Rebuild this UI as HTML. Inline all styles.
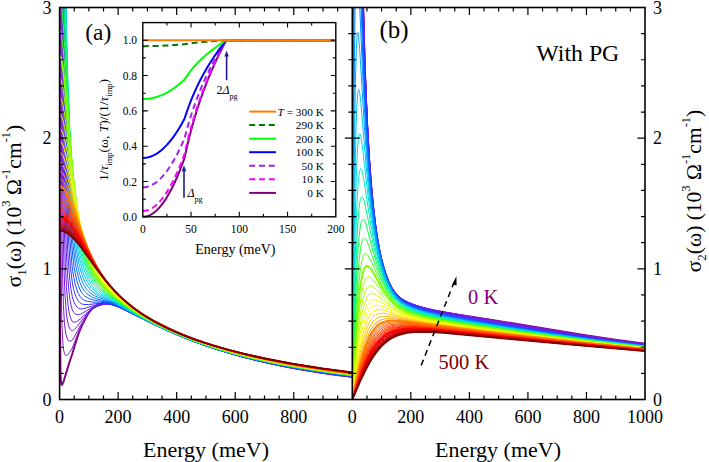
<!DOCTYPE html>
<html><head><meta charset="utf-8"><style>
html,body{margin:0;padding:0;background:#fff;}
svg{display:block;}
text{font-family:"Liberation Serif", serif;fill:#000;}
</style></head><body>
<svg width="709" height="462" viewBox="0 0 709 462">
<rect width="709" height="462" fill="#fff"/>

<defs><clipPath id="ca"><rect x="59.6" y="7.5" width="292.7" height="392.0"/></clipPath><clipPath id="cb"><rect x="352.3" y="7.5" width="292.7" height="392.0"/></clipPath></defs>
<g clip-path="url(#ca)" fill="none" stroke-linejoin="round"><path d="M59.6 -30.0L59.8 -30.0L60.0 322.9L60.5 373.0L60.9 381.8L61.5 384.6L61.9 384.8L62.4 384.3L63.7 381.1L69.0 363.6L72.3 353.8L76.9 338.8L78.9 332.7L82.0 325.4L87.0 315.7L88.9 312.6L91.1 309.9L93.3 307.8L95.5 306.2L98.4 304.6L101.3 303.4L104.2 302.6L107.9 302.2L110.8 302.3L113.7 302.9L117.4 304.0L121.8 305.7L132.8 310.6L167.2 327.6L186.2 336.3L197.9 341.1L209.6 345.6L221.3 349.6L233.0 353.4L246.2 357.2L259.4 360.6L273.3 363.9L287.9 367.0L303.3 369.8L318.6 372.3L334.7 374.7L352.3 376.9" stroke="#800080" stroke-width="1.9"/><path d="M59.6 -30.0L60.3 -30.0L60.8 202.8L61.1 260.9L61.5 303.1L61.9 323.9L62.7 340.7L63.1 346.0L63.7 350.3L64.4 353.4L65.2 354.9L65.7 355.4L66.3 355.5L67.1 355.3L67.8 354.7L69.6 352.5L72.2 348.2L78.2 332.9L80.8 327.0L86.2 317.1L88.4 313.7L90.3 311.2L92.5 309.0L94.7 307.4L96.9 306.0L99.8 304.7L102.0 303.9L105.0 303.2L107.9 303.0L110.1 303.0L113.0 303.5L115.9 304.4L124.7 307.9L133.5 312.0L165.0 327.6L176.7 333.0L187.7 337.8L197.9 341.9L208.9 346.0L219.1 349.5L230.1 353.0L243.3 356.9L257.2 360.5L271.1 363.7L285.7 366.8L301.1 369.6L317.2 372.3L334.0 374.7L352.3 377.0" stroke="#8C14C8" stroke-width="1.0"/><path d="M59.6 -30.0L60.9 -30.0L61.6 188.8L62.1 241.1L62.7 279.3L63.4 304.6L64.4 322.4L65.2 329.4L65.9 334.0L66.8 337.4L67.9 339.9L68.8 340.9L69.8 341.2L71.0 341.0L72.3 340.2L74.7 336.2L80.1 326.0L85.1 317.9L88.6 313.1L91.8 309.7L94.0 308.0L96.2 306.7L99.1 305.3L101.3 304.5L105.7 303.6L108.6 303.5L110.8 303.7L113.7 304.3L116.7 305.2L124.7 308.5L162.8 327.2L174.5 332.6L185.5 337.3L195.7 341.5L206.7 345.6L217.7 349.4L228.6 352.8L241.8 356.6L255.7 360.3L270.3 363.7L285.0 366.7L300.3 369.5L317.2 372.3L334.0 374.7L352.3 377.0" stroke="#8217D4" stroke-width="1.0"/><path d="M59.6 -30.0L61.5 -30.0L62.5 175.3L63.1 226.8L64.0 269.1L65.0 295.0L66.3 312.3L67.2 319.0L68.1 323.5L69.1 327.0L70.4 329.6L71.3 330.5L72.3 331.0L74.4 329.5L76.9 326.7L86.7 314.2L90.3 310.5L93.3 308.3L97.7 306.0L102.0 304.5L106.4 303.8L110.8 304.0L115.9 305.4L124.0 308.7L161.3 327.0L173.0 332.3L184.0 337.1L195.0 341.5L205.9 345.5L216.9 349.3L227.9 352.7L241.8 356.7L255.7 360.3L270.3 363.7L285.0 366.7L300.3 369.5L317.2 372.2L334.0 374.6L352.3 376.9" stroke="#781BDF" stroke-width="1.0"/><path d="M59.6 -30.0L62.1 -30.0L62.8 100.6L63.4 168.0L64.3 226.4L65.3 263.8L66.5 287.6L67.9 304.2L68.8 310.3L69.8 315.3L70.9 318.7L72.2 321.4L73.1 322.0L74.4 322.2L75.7 322.0L77.3 321.2L80.7 318.6L85.5 313.9L88.9 311.1L92.5 308.5L96.2 306.7L100.6 305.2L104.2 304.4L107.9 304.3L111.6 304.7L116.7 306.2L123.3 309.0L159.8 326.8L170.8 331.8L181.8 336.5L192.8 340.9L204.5 345.2L215.5 349.0L227.2 352.6L241.1 356.6L255.0 360.2L269.6 363.5L284.2 366.5L300.3 369.4L316.4 372.0L334.0 374.5L352.3 376.8" stroke="#6E1EEB" stroke-width="1.0"/><path d="M59.6 -30.0L62.7 -30.0L63.4 76.9L64.1 151.7L65.2 212.6L66.3 251.7L67.5 274.7L69.1 293.2L70.1 300.5L71.2 305.7L72.3 309.8L73.6 312.2L74.8 313.5L76.1 314.3L77.5 314.6L79.1 314.5L80.5 314.1L82.3 313.3L86.5 310.6L91.1 308.1L94.0 306.8L97.7 305.5L101.3 304.6L105.0 304.2L108.6 304.3L111.6 304.7L115.9 306.1L122.5 308.8L158.4 326.3L169.4 331.3L180.3 336.1L191.3 340.5L203.0 344.8L214.7 348.8L226.4 352.4L240.3 356.4L254.2 359.9L268.9 363.3L284.2 366.4L300.3 369.3L316.4 371.9L334.0 374.4L352.3 376.7" stroke="#5D25F2" stroke-width="1.0"/><path d="M59.6 -30.0L63.3 -30.0L64.1 79.2L65.0 151.4L66.2 208.6L67.6 248.9L69.1 272.1L70.0 281.4L71.0 289.5L72.2 296.2L72.9 299.0L74.4 303.0L76.0 305.9L77.3 307.3L78.6 308.3L80.1 308.8L81.8 308.9L83.9 308.6L94.7 305.3L100.6 304.1L103.5 303.9L106.4 303.8L109.4 304.2L111.6 304.6L115.9 306.0L121.8 308.5L156.2 325.4L167.2 330.5L178.1 335.3L189.1 339.7L200.8 344.1L212.5 348.1L225.0 352.0L238.9 355.9L253.5 359.7L268.1 363.0L283.5 366.2L299.6 369.1L316.4 371.8L334.0 374.3L352.3 376.5" stroke="#4D2BF8" stroke-width="1.0"/><path d="M59.6 -30.0L63.8 -30.0L64.7 70.9L65.7 144.5L67.1 201.4L67.9 226.0L68.8 244.2L70.4 266.6L72.3 282.7L73.5 288.7L74.8 293.6L76.4 297.8L78.2 300.8L79.5 302.3L80.8 303.4L82.3 304.1L83.9 304.5L88.7 304.5L99.1 303.4L103.5 303.2L108.6 303.7L113.7 305.1L118.1 306.8L123.3 309.2L146.7 320.9L159.1 326.9L170.1 331.9L180.3 336.2L193.5 341.4L207.4 346.4L221.3 350.8L235.2 354.9L248.4 358.3L261.6 361.5L275.5 364.4L289.4 367.1L304.0 369.7L319.4 372.1L335.5 374.3L352.3 376.4" stroke="#3C32FF" stroke-width="1.0"/><path d="M59.6 -30.0L64.3 -30.0L65.3 68.3L66.6 148.0L68.1 200.8L69.0 222.1L70.0 240.7L71.7 262.4L72.6 270.1L73.8 277.5L75.1 283.9L76.6 289.0L78.3 293.5L80.2 296.7L81.8 298.5L83.5 299.8L84.6 300.4L87.8 301.4L92.5 302.1L101.3 302.3L105.7 302.7L109.4 303.4L113.7 304.7L122.5 308.7L144.5 319.8L155.5 325.2L165.7 330.0L175.2 334.1L187.7 339.2L200.1 343.8L213.3 348.3L226.4 352.3L240.3 356.2L254.2 359.7L268.9 363.0L284.2 366.1L300.3 368.9L316.4 371.5L334.0 374.0L352.3 376.3" stroke="#2446FF" stroke-width="1.0"/><path d="M59.6 -30.0L64.6 -30.0L64.7 -27.0L65.9 70.3L67.2 140.4L69.0 197.5L70.0 219.5L71.0 236.2L72.9 257.8L74.1 266.7L75.3 273.5L76.7 280.1L78.3 285.5L80.1 289.8L82.1 293.2L83.3 294.7L84.6 295.9L87.1 297.6L89.6 298.8L91.8 299.6L94.7 300.2L106.4 302.0L110.1 303.0L113.0 304.0L121.1 307.7L152.5 323.8L171.6 332.5L183.3 337.4L195.0 341.9L207.4 346.3L219.9 350.3L234.5 354.5L249.1 358.3L264.5 361.9L280.6 365.2L297.4 368.3L315.0 371.2L333.3 373.8L352.3 376.2" stroke="#0C5AFF" stroke-width="1.0"/><path d="M59.6 -30.0L64.9 -30.0L65.0 -28.1L66.3 67.1L67.8 136.5L68.7 166.0L69.7 192.7L70.9 215.7L72.0 233.1L72.9 243.4L74.1 254.0L75.4 263.3L76.7 270.5L78.2 276.7L79.9 282.4L81.8 286.8L83.9 290.3L86.1 292.8L88.0 294.5L90.3 296.1L92.5 297.3L96.9 298.8L107.2 301.4L113.0 303.5L120.3 306.9L148.9 321.9L158.4 326.5L167.9 330.9L178.9 335.6L190.6 340.2L202.3 344.4L214.0 348.3L228.6 352.8L244.0 356.9L260.1 360.8L276.9 364.4L294.5 367.7L312.8 370.7L331.8 373.4L352.3 376.0" stroke="#0072FF" stroke-width="1.0"/><path d="M59.6 -30.0L65.2 -30.0L66.8 68.9L68.4 135.6L69.4 166.0L70.4 189.9L71.6 211.1L72.8 227.6L73.9 240.2L75.1 250.2L76.4 259.2L78.0 267.7L79.6 274.2L81.6 280.0L83.6 284.5L85.9 288.2L87.7 290.4L89.6 292.4L91.8 294.1L94.7 295.9L98.4 297.4L108.6 301.0L114.5 303.5L143.0 318.8L158.4 326.4L170.8 332.1L183.3 337.3L196.4 342.3L209.6 346.8L225.0 351.6L240.3 355.8L256.4 359.8L274.0 363.6L292.3 367.1L311.3 370.3L331.1 373.2L352.3 375.9" stroke="#008EFF" stroke-width="1.0"/><path d="M59.6 -30.0L65.2 -30.0L67.1 67.8L68.8 132.8L69.8 160.7L71.0 186.0L72.3 208.3L73.6 225.1L75.0 238.2L76.3 248.5L77.7 257.7L79.4 265.6L81.1 272.2L83.2 278.1L85.4 282.7L88.0 286.9L89.6 288.9L91.8 291.2L94.0 292.9L96.9 294.8L99.8 296.3L109.4 300.4L114.5 302.9L138.6 316.2L152.5 323.4L165.7 329.7L178.9 335.4L192.8 340.8L206.7 345.7L222.0 350.6L238.1 355.1L255.0 359.3L272.5 363.2L290.8 366.7L310.6 370.1L331.1 373.1L352.3 375.8" stroke="#00AAFF" stroke-width="1.0"/><path d="M59.6 -30.0L65.2 -30.0L67.2 65.5L69.3 132.9L70.4 161.3L71.6 184.1L72.9 204.7L74.4 222.2L75.7 234.6L77.2 245.7L78.8 255.3L80.5 263.5L82.3 269.9L84.3 275.7L87.0 281.2L89.6 285.4L91.8 288.2L94.0 290.3L96.2 292.1L99.1 294.1L114.5 302.2L135.0 313.9L147.4 320.7L160.6 327.2L174.5 333.4L188.4 339.1L203.0 344.4L219.1 349.6L235.2 354.2L252.1 358.5L270.3 362.6L289.4 366.3L309.1 369.7L330.3 372.8L352.3 375.6" stroke="#00C4F1" stroke-width="1.0"/><path d="M59.6 -30.0L64.9 -30.0L67.2 63.0L69.4 128.2L70.7 157.7L72.0 181.5L73.4 200.7L75.0 219.0L76.4 232.1L77.9 242.7L79.5 252.1L81.4 260.9L83.5 268.2L85.7 274.1L88.3 279.6L91.1 284.1L93.3 286.9L95.5 289.2L98.4 291.7L101.3 293.7L131.3 311.5L143.0 318.1L156.9 325.3L170.8 331.7L185.5 337.8L200.8 343.5L216.9 348.8L233.0 353.5L250.6 358.0L268.9 362.2L287.9 365.9L308.4 369.4L329.6 372.6L352.3 375.5" stroke="#00DEE3" stroke-width="1.0"/><path d="M59.6 -30.0L64.3 -30.0L67.4 69.9L69.7 130.0L71.0 156.4L72.5 180.7L73.9 200.0L75.4 215.6L76.9 228.3L78.5 239.7L80.2 249.6L82.3 258.8L84.3 266.0L86.8 272.6L89.6 278.5L92.5 283.1L94.7 285.9L97.7 289.0L100.6 291.5L103.5 293.6L126.2 308.0L140.8 316.6L154.7 324.0L168.6 330.6L183.3 336.8L198.6 342.6L214.7 348.0L231.6 353.0L249.1 357.5L267.4 361.7L287.2 365.6L307.7 369.2L329.6 372.5L352.3 375.4" stroke="#00EFC0" stroke-width="1.0"/><path d="M59.6 -30.0L63.4 -30.0L67.4 75.4L69.8 130.8L71.3 157.1L72.8 179.2L74.2 197.2L75.8 213.4L77.5 226.6L79.2 238.3L81.1 248.6L83.2 257.3L85.5 265.1L88.1 271.9L91.1 277.9L94.0 282.5L96.2 285.2L99.1 288.4L102.0 291.0L105.7 293.8L123.3 305.6L138.6 315.1L152.5 322.6L166.4 329.4L181.1 335.7L197.2 341.9L213.3 347.4L230.1 352.4L247.7 357.0L266.7 361.4L286.4 365.4L306.9 368.9L328.9 372.2L352.3 375.2" stroke="#00F788" stroke-width="1.0"/><path d="M59.6 -30.0L61.4 -30.0L62.2 -19.4L63.7 6.0L67.9 95.5L70.3 138.7L73.1 179.1L74.5 195.7L76.0 209.7L77.7 223.6L79.5 235.1L81.6 245.9L83.7 255.2L86.2 263.4L88.9 270.3L91.8 276.3L95.5 282.0L98.4 285.7L101.3 288.7L104.2 291.3L108.6 294.8L115.9 300.1L124.0 305.6L138.6 314.7L151.8 322.0L165.7 328.9L180.3 335.3L196.4 341.5L212.5 347.0L229.4 352.1L246.9 356.7L266.0 361.1L285.7 365.1L306.9 368.8L328.9 372.1L352.3 375.1" stroke="#00FF50" stroke-width="1.0"/><path d="M59.6 -2.3L59.9 -2.1L60.3 -1.1L61.1 2.5L61.8 8.3L62.7 17.8L64.3 40.7L68.8 117.7L71.3 154.8L74.1 188.1L75.6 202.1L77.2 215.3L79.1 228.3L81.0 239.0L83.2 249.0L85.4 257.1L88.1 265.3L91.1 272.1L94.0 277.5L97.7 282.8L100.6 286.3L103.5 289.2L107.2 292.5L112.3 296.6L125.5 306.0L132.0 310.4L139.4 314.9L152.5 322.2L166.4 329.1L181.1 335.4L196.4 341.4L212.5 346.9L229.4 351.9L246.9 356.6L266.0 361.0L285.7 364.9L306.9 368.6L328.9 371.9L352.3 375.0" stroke="#2BFF35" stroke-width="1.0"/><path d="M59.6 29.2L60.0 29.5L60.5 30.5L61.4 34.3L62.2 40.4L63.1 48.4L65.2 73.0L70.1 141.7L72.5 169.9L75.6 199.7L78.8 223.1L80.8 234.8L82.9 244.4L84.9 252.3L87.7 261.1L90.3 267.8L93.3 273.9L96.9 279.9L100.6 284.6L103.5 287.8L107.2 291.3L111.6 295.1L116.7 299.2L129.1 308.0L141.6 315.8L154.0 322.7L167.9 329.6L182.5 335.9L197.9 341.8L214.0 347.2L230.8 352.2L248.4 356.8L266.7 361.0L286.4 364.9L306.9 368.5L328.9 371.8L352.3 374.8" stroke="#55FF1B" stroke-width="1.0"/><path d="M59.6 55.7L60.0 55.9L60.5 56.5L61.5 59.9L62.5 65.6L63.6 73.4L65.5 91.9L70.6 150.3L73.5 180.3L76.9 207.7L78.6 219.3L80.5 230.2L82.6 240.0L84.8 248.8L87.4 257.5L90.3 265.3L93.3 271.7L96.2 276.9L99.8 282.2L103.5 286.6L107.2 290.3L110.8 293.7L120.3 301.4L131.3 309.2L143.8 316.9L156.2 323.8L170.1 330.5L184.0 336.4L199.4 342.2L215.5 347.5L232.3 352.5L249.9 357.0L268.1 361.2L287.2 365.0L307.7 368.5L329.6 371.8L352.3 374.7" stroke="#80FF00" stroke-width="1.9"/><path d="M59.6 78.2L60.2 78.5L60.6 79.1L61.6 82.0L62.7 86.7L63.8 93.9L66.0 111.7L71.6 164.7L74.7 190.9L78.3 216.0L80.2 226.6L82.3 236.4L84.5 245.3L87.0 253.7L89.6 261.2L92.5 268.1L95.5 273.8L99.1 279.6L102.8 284.4L107.2 289.2L110.8 292.8L115.2 296.7L124.7 304.2L135.7 311.7L147.4 318.8L159.8 325.4L173.0 331.6L186.9 337.4L201.6 342.8L216.9 347.9L233.8 352.7L250.6 357.1L268.9 361.2L287.9 364.9L308.4 368.5L329.6 371.6L352.3 374.6" stroke="#99FF00" stroke-width="1.0"/><path d="M59.6 97.5L60.2 97.8L60.6 98.3L61.8 100.9L63.0 105.4L64.1 111.6L66.5 127.4L72.8 178.0L76.0 200.9L77.9 212.6L79.9 223.7L82.0 233.4L84.2 242.3L86.8 251.3L89.6 259.2L92.5 266.2L95.5 272.0L99.1 278.1L102.8 283.1L107.2 288.2L111.6 292.6L119.6 299.7L129.1 306.9L139.4 313.7L151.1 320.6L162.8 326.7L175.9 332.7L189.9 338.4L204.5 343.7L219.9 348.6L236.0 353.2L252.8 357.4L271.1 361.5L290.1 365.2L309.9 368.6L330.3 371.6L352.3 374.5" stroke="#B3FF00" stroke-width="1.0"/><path d="M59.6 114.2L60.2 114.4L60.8 115.0L61.9 117.3L63.3 121.6L64.6 127.5L67.1 142.0L73.6 187.1L77.3 209.4L79.5 220.8L81.7 230.9L83.9 239.7L86.2 247.7L88.9 255.5L91.8 262.9L94.7 269.1L98.4 275.5L102.0 280.9L106.4 286.4L111.6 291.8L116.7 296.6L125.5 303.8L135.0 310.6L145.2 317.0L156.2 323.2L167.9 329.0L181.1 334.8L194.2 339.9L208.9 345.0L223.5 349.6L239.6 354.0L255.7 358.0L273.3 361.8L291.6 365.3L310.6 368.6L331.1 371.6L352.3 374.3" stroke="#CCFF00" stroke-width="1.0"/><path d="M59.6 128.8L60.2 128.9L60.8 129.4L62.1 131.5L63.4 135.2L64.9 140.7L67.5 153.7L74.7 195.9L78.8 217.3L81.1 227.8L83.5 237.0L85.8 245.0L88.4 252.9L91.8 261.4L94.7 267.7L97.7 273.0L101.3 278.8L105.7 284.6L110.1 289.6L115.2 294.7L121.1 299.9L129.1 306.2L138.6 312.7L148.9 319.0L159.8 324.9L171.6 330.5L184.0 335.8L197.2 340.9L211.8 345.9L226.4 350.3L241.8 354.5L257.9 358.4L275.5 362.1L293.0 365.5L312.1 368.7L331.8 371.6L352.3 374.2" stroke="#E6FF00" stroke-width="1.0"/><path d="M59.6 141.5L60.2 141.6L60.9 142.1L62.4 144.3L63.8 147.9L65.3 152.8L68.2 165.4L75.7 203.5L80.1 223.4L82.4 232.6L84.9 241.3L87.6 249.3L90.3 256.7L93.3 263.4L96.9 270.6L100.6 276.6L104.2 281.8L108.6 287.2L113.7 292.6L119.6 298.1L125.5 303.0L133.5 309.0L143.0 315.3L153.3 321.2L164.2 326.9L175.9 332.3L187.7 337.2L200.8 342.1L214.7 346.7L229.4 351.0L244.0 354.9L260.1 358.7L276.9 362.3L294.5 365.6L312.8 368.6L331.8 371.4L352.3 374.1" stroke="#FFFF00" stroke-width="1.0"/><path d="M59.6 152.7L60.3 152.8L61.1 153.3L62.5 155.2L64.1 158.7L65.7 163.4L68.8 175.0L76.9 210.8L81.6 229.4L84.2 238.4L86.8 246.4L89.6 253.9L92.5 260.8L95.5 266.8L99.1 273.3L102.8 278.9L107.2 284.7L112.3 290.5L117.4 295.6L123.3 300.8L129.8 306.1L138.6 312.2L148.1 318.2L158.4 323.8L168.6 328.9L180.3 334.1L192.0 338.7L205.2 343.5L218.4 347.7L233.0 351.9L247.7 355.7L263.0 359.3L279.1 362.6L296.0 365.7L314.2 368.8L332.5 371.4L352.3 374.0" stroke="#FFE600" stroke-width="1.0"/><path d="M59.6 162.6L60.3 162.7L61.2 163.2L62.8 165.1L64.6 168.5L66.3 173.1L69.6 183.9L78.0 217.2L83.0 234.6L85.8 243.0L88.7 251.0L91.8 258.3L94.7 264.5L98.4 271.2L102.0 277.0L106.4 283.1L110.8 288.3L115.9 293.7L121.1 298.5L126.9 303.5L133.5 308.5L142.3 314.4L151.1 319.7L161.3 325.2L171.6 330.1L183.3 335.2L195.0 339.7L207.4 344.1L220.6 348.2L234.5 352.2L249.1 355.9L264.5 359.5L280.6 362.8L297.4 365.9L315.0 368.7L333.3 371.4L352.3 373.9" stroke="#FFCC00" stroke-width="1.0"/><path d="M59.6 171.4L60.5 171.5L61.4 172.0L63.1 173.9L64.9 176.9L66.8 181.3L70.3 191.7L79.4 223.2L84.5 239.2L87.4 247.2L90.3 254.4L93.3 260.8L96.9 267.9L100.6 274.0L105.0 280.5L109.4 286.0L113.7 291.0L118.9 296.1L124.7 301.4L130.6 306.1L137.2 310.8L145.9 316.5L154.7 321.6L165.0 326.9L175.2 331.7L186.2 336.3L197.9 340.7L210.3 344.9L223.5 349.0L237.4 352.9L251.3 356.4L266.7 359.8L282.1 362.9L298.2 365.9L315.7 368.7L333.3 371.3L352.3 373.7" stroke="#FFB300" stroke-width="1.0"/><path d="M59.6 179.2L60.5 179.3L61.4 179.7L63.3 181.5L65.3 184.7L67.4 188.9L71.0 198.7L80.7 228.6L86.1 243.7L89.6 252.3L92.5 258.7L95.5 264.5L99.1 271.0L102.8 276.7L107.2 282.8L111.6 288.1L116.7 293.6L121.8 298.5L127.7 303.5L133.5 308.0L140.1 312.6L148.9 318.1L157.7 323.1L167.2 327.9L177.4 332.5L188.4 337.0L200.1 341.4L212.5 345.6L225.7 349.5L239.6 353.3L253.5 356.8L268.1 360.0L283.5 363.1L299.6 366.0L316.4 368.7L334.0 371.3L352.3 373.6" stroke="#FF9900" stroke-width="1.0"/><path d="M59.6 186.2L60.5 186.4L61.5 186.8L63.6 188.5L65.7 191.5L67.9 195.7L71.9 205.2L82.1 233.7L87.8 248.1L91.1 255.3L94.7 262.7L97.7 268.0L101.3 274.0L105.7 280.3L110.1 285.9L114.5 290.9L119.6 296.1L124.7 300.8L130.6 305.6L137.2 310.5L143.8 314.9L152.5 320.1L161.3 324.9L170.8 329.5L181.1 334.0L192.0 338.4L203.8 342.6L216.2 346.6L228.6 350.3L241.8 353.8L255.7 357.2L270.3 360.4L285.0 363.3L301.1 366.2L317.2 368.7L334.0 371.2L352.3 373.5" stroke="#FF8000" stroke-width="1.9"/><path d="M59.6 190.6L60.6 190.7L61.6 191.1L63.7 192.7L65.9 195.6L68.2 199.7L72.3 208.9L83.0 236.9L88.9 250.8L91.8 257.0L95.5 264.1L99.1 270.4L102.8 276.1L107.2 282.2L111.6 287.6L115.9 292.4L121.1 297.5L126.2 302.0L132.0 306.7L138.6 311.5L145.2 315.8L154.0 321.0L162.8 325.6L172.3 330.2L182.5 334.6L193.5 338.9L204.5 342.8L216.9 346.8L229.4 350.4L242.5 353.9L256.4 357.3L271.1 360.5L285.7 363.3L301.8 366.2L317.9 368.8L334.7 371.2L352.3 373.4" stroke="#FF7300" stroke-width="1.0"/><path d="M59.6 194.5L60.6 194.7L61.8 195.1L64.0 196.8L66.2 199.5L68.7 203.7L72.9 212.8L83.7 239.5L89.6 252.7L93.3 260.1L96.9 266.7L100.6 272.7L104.2 278.2L108.6 284.0L113.0 289.2L117.4 293.9L122.5 298.8L127.7 303.2L133.5 307.8L140.1 312.5L146.7 316.7L154.7 321.4L163.5 326.0L173.0 330.5L183.3 334.9L194.2 339.1L205.2 343.0L217.7 347.0L230.1 350.6L243.3 354.0L257.2 357.4L271.8 360.5L286.4 363.4L301.8 366.1L317.9 368.7L334.7 371.1L352.3 373.4" stroke="#FF6600" stroke-width="1.0"/><path d="M59.6 198.2L60.6 198.3L61.8 198.7L64.1 200.4L66.5 203.2L69.0 207.1L73.4 216.0L84.8 242.6L91.1 256.0L94.7 263.0L98.4 269.3L102.0 275.0L105.7 280.1L110.1 285.7L114.5 290.7L119.6 296.0L124.7 300.7L129.8 305.0L135.7 309.4L142.3 313.9L148.9 318.0L156.9 322.6L165.7 327.1L175.2 331.5L185.5 335.8L196.4 339.9L207.4 343.7L219.9 347.6L232.3 351.1L245.5 354.5L258.6 357.6L272.5 360.6L287.2 363.4L302.5 366.1L318.6 368.7L352.3 373.3" stroke="#FF5A00" stroke-width="1.0"/><path d="M59.6 201.6L60.8 201.7L61.9 202.1L64.3 203.8L66.8 206.6L69.4 210.6L74.1 219.6L85.5 244.9L91.8 257.7L95.5 264.4L99.1 270.5L102.8 276.0L107.2 282.0L111.6 287.4L115.9 292.3L121.1 297.4L126.2 302.0L132.0 306.7L137.9 311.0L143.8 314.9L150.3 318.9L158.4 323.4L167.2 327.8L176.7 332.1L186.9 336.3L197.9 340.4L208.9 344.2L220.6 347.8L233.0 351.3L246.2 354.7L259.4 357.7L273.3 360.7L287.9 363.5L303.3 366.2L318.6 368.6L352.3 373.2" stroke="#FF4D00" stroke-width="1.0"/><path d="M59.6 204.7L60.8 204.8L61.9 205.2L64.4 206.8L66.9 209.5L69.7 213.5L74.4 222.1L86.7 248.0L93.3 260.7L96.9 267.1L100.6 272.8L104.2 278.1L108.6 283.9L113.0 289.1L117.4 293.8L122.5 298.7L127.7 303.2L133.5 307.8L139.4 312.0L145.2 315.8L151.8 319.8L159.8 324.2L168.6 328.5L178.1 332.8L188.4 336.9L198.6 340.7L209.6 344.4L221.3 348.0L233.8 351.4L246.9 354.8L260.1 357.8L274.0 360.8L288.6 363.6L304.0 366.2L319.4 368.7L352.3 373.1" stroke="#FF4000" stroke-width="1.0"/><path d="M59.6 207.6L60.8 207.7L62.1 208.1L64.7 209.8L67.4 212.5L70.1 216.4L75.1 225.1L87.4 250.0L94.0 262.2L97.7 268.3L102.0 275.0L105.7 280.1L110.1 285.7L114.5 290.7L118.9 295.2L124.0 300.0L129.1 304.4L135.0 308.9L140.8 313.0L146.7 316.8L153.3 320.7L161.3 325.0L170.1 329.2L179.6 333.4L189.9 337.5L200.1 341.2L211.1 344.8L222.8 348.4L235.2 351.8L248.4 355.1L261.6 358.1L275.5 361.0L289.4 363.6L319.4 368.6L352.3 373.0" stroke="#FF3300" stroke-width="1.0"/><path d="M59.6 210.3L60.9 210.4L62.2 210.8L64.9 212.4L67.6 215.2L70.6 219.1L75.7 227.8L88.1 251.9L94.7 263.7L98.4 269.6L102.8 276.2L106.4 281.1L110.8 286.5L115.2 291.5L119.6 295.9L124.7 300.7L129.8 305.0L135.7 309.5L141.6 313.5L147.4 317.3L154.0 321.1L162.0 325.4L170.8 329.6L180.3 333.7L189.9 337.5L200.1 341.2L211.1 344.8L222.8 348.3L235.2 351.8L248.4 355.0L261.6 358.1L275.5 360.9L289.4 363.6L319.4 368.5L352.3 373.0" stroke="#FF2600" stroke-width="1.0"/><path d="M59.6 212.7L60.9 212.9L62.2 213.2L65.0 214.9L67.8 217.5L70.9 221.4L76.1 230.0L88.9 253.8L96.2 266.3L99.8 272.0L104.2 278.3L107.9 283.0L112.3 288.2L116.7 293.0L121.1 297.4L126.2 302.0L131.3 306.2L137.2 310.5L143.0 314.5L148.9 318.2L155.5 321.9L163.5 326.1L172.3 330.3L181.8 334.3L191.3 338.0L201.6 341.7L212.5 345.3L224.2 348.7L236.7 352.1L249.1 355.2L262.3 358.2L276.2 361.0L290.1 363.7L320.1 368.6L352.3 372.9" stroke="#FF1A00" stroke-width="1.0"/><path d="M59.6 215.0L60.9 215.1L62.4 215.5L65.2 217.1L68.1 219.8L71.2 223.6L73.6 227.3L76.6 232.1L89.6 255.5L96.9 267.7L100.6 273.2L105.0 279.3L109.4 284.8L113.7 289.9L118.1 294.5L122.5 298.7L127.7 303.2L132.8 307.3L138.6 311.6L144.5 315.5L150.3 319.1L156.9 322.7L165.0 326.9L173.8 330.9L183.3 334.9L192.8 338.6L203.0 342.2L214.0 345.7L225.7 349.1L237.4 352.3L249.9 355.3L263.0 358.3L276.9 361.1L290.8 363.7L320.1 368.5L352.3 372.8" stroke="#FF0D00" stroke-width="1.0"/><path d="M59.6 217.1L60.9 217.2L62.4 217.6L65.3 219.2L68.4 222.0L71.6 225.8L74.2 229.6L77.2 234.3L90.3 257.2L97.7 269.0L101.3 274.4L105.7 280.3L110.1 285.8L114.5 290.7L118.9 295.2L124.0 300.1L129.1 304.4L134.2 308.4L139.4 312.1L145.2 316.0L151.1 319.5L157.7 323.2L165.7 327.2L174.5 331.3L184.0 335.2L193.5 338.9L203.8 342.4L214.7 345.9L226.4 349.3L238.1 352.4L250.6 355.5L263.8 358.4L290.8 363.7L320.1 368.4L352.3 372.8" stroke="#FF0000" stroke-width="1.9"/><path d="M59.6 219.1L61.1 219.2L62.5 219.6L65.5 221.1L68.5 223.8L71.9 227.7L74.5 231.4L77.6 236.1L91.1 258.8L98.4 270.3L102.0 275.5L106.4 281.3L110.8 286.6L115.2 291.5L119.6 296.0L124.7 300.7L129.8 305.1L135.0 309.0L140.1 312.6L145.9 316.5L151.8 320.0L158.4 323.6L166.4 327.6L175.2 331.6L184.7 335.5L194.2 339.1L204.5 342.7L215.5 346.1L227.2 349.5L238.9 352.6L251.3 355.6L264.5 358.5L291.6 363.8L320.8 368.5L352.3 372.7" stroke="#F20000" stroke-width="1.0"/><path d="M59.6 220.8L61.1 221.0L62.5 221.3L65.6 222.9L68.8 225.6L72.2 229.5L75.0 233.2L78.0 237.8L92.5 261.5L99.8 272.5L103.5 277.6L107.9 283.2L112.3 288.3L116.7 293.1L121.1 297.4L126.2 302.0L131.3 306.2L136.4 310.1L141.6 313.6L147.4 317.4L153.3 320.8L159.8 324.4L167.9 328.3L176.7 332.3L186.2 336.1L195.7 339.7L205.9 343.1L216.9 346.6L227.9 349.7L239.6 352.8L264.5 358.5L291.6 363.7L320.8 368.5L352.3 372.7" stroke="#E60000" stroke-width="1.0"/><path d="M59.6 222.5L61.1 222.6L62.7 223.0L64.3 223.7L65.9 224.7L69.1 227.3L72.6 231.3L78.5 239.4L92.5 261.8L100.6 273.7L108.6 284.1L113.0 289.2L117.4 293.8L121.8 298.1L126.9 302.7L132.0 306.8L137.2 310.6L142.3 314.2L148.1 317.9L154.0 321.3L160.6 324.8L168.6 328.7L177.4 332.6L186.9 336.4L196.4 339.9L206.7 343.4L217.7 346.8L228.6 349.9L240.3 352.9L265.2 358.6L292.3 363.8L321.6 368.5L352.3 372.6" stroke="#D90000" stroke-width="1.0"/><path d="M59.6 224.0L61.2 224.1L62.8 224.6L66.0 226.2L69.4 228.9L72.9 232.7L75.7 236.3L78.9 240.9L93.3 263.2L101.3 274.8L109.4 285.0L113.7 290.0L118.1 294.6L122.5 298.8L127.7 303.3L132.8 307.4L137.9 311.2L143.0 314.7L148.9 318.3L154.7 321.7L161.3 325.2L169.4 329.1L178.1 332.9L186.9 336.5L196.4 340.0L206.7 343.4L217.7 346.8L228.6 349.9L240.3 352.9L265.2 358.6L292.3 363.8L321.6 368.5L352.3 372.6" stroke="#CC0000" stroke-width="1.0"/><path d="M59.6 225.4L61.2 225.5L62.8 225.9L66.0 227.5L69.4 230.1L73.1 234.0L76.0 237.6L79.4 242.3L94.0 264.5L102.0 275.9L106.4 281.5L110.8 286.8L115.2 291.6L119.6 296.0L128.4 303.9L133.5 308.0L138.6 311.7L143.8 315.2L149.6 318.8L155.5 322.1L162.0 325.6L170.1 329.4L178.9 333.3L187.7 336.8L197.2 340.2L207.4 343.6L218.4 347.0L229.4 350.1L241.1 353.1L266.0 358.7L293.0 363.9L321.6 368.4L352.3 372.5" stroke="#C00000" stroke-width="1.0"/><path d="M59.6 226.7L61.2 226.8L62.8 227.2L66.2 228.8L69.7 231.5L73.4 235.3L76.4 239.0L79.8 243.6L94.7 265.8L102.8 277.0L107.2 282.5L111.6 287.6L115.9 292.4L120.3 296.7L129.1 304.5L134.2 308.5L139.4 312.2L144.5 315.6L150.3 319.2L156.2 322.5L162.8 326.0L170.8 329.8L179.6 333.6L188.4 337.1L197.9 340.5L208.1 343.9L219.1 347.2L230.1 350.3L241.8 353.3L266.7 358.9L293.0 363.9L321.6 368.4L352.3 372.5" stroke="#B30000" stroke-width="1.0"/><path d="M59.6 227.8L61.2 227.9L63.0 228.4L66.3 229.9L69.8 232.6L73.6 236.4L76.7 240.2L80.1 244.7L95.5 267.1L103.5 278.0L107.9 283.4L112.3 288.4L116.7 293.1L121.1 297.4L125.5 301.4L130.6 305.7L140.1 312.8L151.1 319.7L163.5 326.4L171.6 330.2L180.3 333.9L189.1 337.4L198.6 340.8L208.9 344.1L219.1 347.2L230.1 350.3L241.8 353.3L266.7 358.8L293.0 363.8L321.6 368.4L352.3 372.5" stroke="#A60000" stroke-width="1.0"/><path d="M59.6 228.9L61.2 229.0L63.0 229.4L66.5 231.0L70.1 233.7L73.9 237.5L77.2 241.4L80.7 246.0L95.5 267.2L103.5 278.0L107.9 283.4L112.3 288.4L116.7 293.1L121.8 298.1L126.2 302.1L131.3 306.3L136.4 310.2L141.6 313.8L152.5 320.5L164.2 326.7L172.3 330.5L181.1 334.2L189.9 337.7L199.4 341.0L209.6 344.4L219.9 347.4L230.8 350.5L242.5 353.4L267.4 359.0L293.8 364.0L322.3 368.5L352.3 372.5" stroke="#990000" stroke-width="1.0"/><path d="M59.6 229.8L61.4 230.0L63.1 230.4L66.6 232.0L70.3 234.7L74.2 238.6L77.5 242.3L81.0 246.9L96.2 268.4L104.2 279.0L113.0 289.3L117.4 293.8L122.5 298.8L126.9 302.7L132.0 306.9L137.2 310.7L142.3 314.3L153.3 321.0L165.0 327.1L173.0 330.9L181.1 334.3L189.9 337.7L199.4 341.1L209.6 344.4L219.9 347.5L230.8 350.5L242.5 353.4L267.4 359.0L293.8 363.9L322.3 368.5L352.3 372.4" stroke="#8D0000" stroke-width="1.0"/><path d="M59.6 230.7L61.4 230.8L63.1 231.2L66.6 232.8L70.4 235.5L74.4 239.3L77.6 243.0L81.3 247.7L96.9 269.5L105.0 279.9L113.7 290.0L118.1 294.6L123.3 299.4L127.7 303.3L132.8 307.4L137.9 311.2L143.0 314.7L154.0 321.4L165.7 327.5L173.8 331.2L181.8 334.6L190.6 338.0L200.1 341.3L210.3 344.6L220.6 347.7L231.6 350.7L243.3 353.6L267.4 359.0L293.8 363.9L322.3 368.4L352.3 372.4" stroke="#800000" stroke-width="1.9"/></g>
<g clip-path="url(#cb)" fill="none" stroke-linejoin="round"><path d="M352.3 399.5L352.3 -30.0L362.3 -30.0L364.7 64.1L366.1 101.3L367.5 134.7L369.1 164.0L370.9 189.1L372.9 212.0L375.1 231.2L376.9 243.8L378.5 253.5L380.3 262.1L382.3 270.1L384.5 276.9L387.4 284.2L390.4 289.9L391.8 292.3L394.0 295.3L396.2 297.8L399.1 300.4L401.3 301.9L404.3 303.4L408.6 305.1L413.8 306.8L419.6 308.3L426.2 309.7L439.4 312.0L490.6 319.7L582.1 334.7L613.5 339.4L645.0 343.6" stroke="#800080" stroke-width="1.9"/><path d="M352.3 399.5L352.3 -30.0L362.4 -30.0L365.0 65.1L366.3 100.8L367.8 133.0L369.4 161.4L371.3 188.0L373.4 210.3L375.6 229.3L377.3 241.7L379.1 251.9L381.0 260.9L383.0 268.7L385.2 275.4L388.2 282.7L391.1 288.4L394.0 292.8L396.2 295.4L399.1 298.1L402.1 300.2L405.7 302.0L410.8 304.1L416.7 306.0L423.3 307.8L431.3 309.6L448.2 312.6L566.7 332.5L606.2 338.6L645.0 343.8" stroke="#8C14C8" stroke-width="1.0"/><path d="M352.3 399.5L352.3 -30.0L362.4 -30.0L365.2 67.8L366.5 102.1L368.0 133.2L369.6 160.8L371.5 186.8L373.5 209.0L375.9 228.9L377.6 241.1L379.5 251.7L381.6 261.1L383.8 269.2L386.0 275.8L388.9 282.8L391.8 288.4L394.7 292.7L397.7 295.9L400.6 298.4L403.5 300.2L407.9 302.3L413.8 304.6L419.6 306.4L426.9 308.3L435.7 310.3L462.1 315.1L529.4 326.7L560.8 331.9L603.3 338.4L645.0 344.1" stroke="#8217D4" stroke-width="1.0"/><path d="M352.3 399.5L352.3 -30.0L362.4 -30.0L363.6 17.2L364.9 60.5L366.2 95.8L367.7 127.4L369.4 157.9L371.3 184.0L373.4 206.4L375.7 226.6L377.5 238.9L379.4 249.7L381.4 259.3L383.8 268.2L386.0 275.0L388.9 282.2L391.8 287.9L394.7 292.3L397.7 295.6L400.6 298.1L404.3 300.4L408.6 302.5L414.5 304.8L421.1 306.9L428.4 308.8L437.9 311.0L452.5 313.8L475.2 317.8L524.3 326.3L556.5 331.6L601.1 338.4L645.0 344.3" stroke="#781BDF" stroke-width="1.0"/><path d="M352.3 399.5L352.3 -30.0L362.3 -30.0L362.4 -28.4L363.6 18.3L365.0 65.1L366.3 99.0L367.8 129.4L369.6 158.9L371.5 184.4L373.5 206.3L375.9 226.2L377.6 238.3L379.5 249.0L381.6 258.6L383.8 267.0L386.0 274.0L388.9 281.4L391.8 287.2L393.3 289.6L395.5 292.7L398.4 295.9L402.1 298.9L405.7 301.0L410.8 303.4L416.7 305.6L423.3 307.7L431.3 309.8L440.8 311.9L456.9 315.0L483.3 319.7L522.1 326.4L553.5 331.5L599.6 338.5L645.0 344.5" stroke="#6E1EEB" stroke-width="1.0"/><path d="M352.3 399.5L352.4 -30.0L362.1 -30.0L364.9 65.1L366.2 98.8L367.7 129.0L369.4 158.2L371.3 183.5L373.4 205.4L375.7 225.3L377.5 237.4L379.4 248.1L381.4 257.8L383.8 266.9L386.0 273.9L388.9 281.4L391.8 287.3L393.3 289.7L395.5 292.8L398.4 296.1L402.1 299.1L405.7 301.3L410.8 303.7L416.7 306.0L424.0 308.3L432.1 310.4L442.3 312.7L459.1 315.9L484.0 320.4L519.9 326.5L551.3 331.6L598.9 338.7L645.0 344.8" stroke="#5D25F2" stroke-width="1.0"/><path d="M352.3 399.5L352.5 -30.0L362.0 -30.0L364.4 57.9L365.8 92.7L367.4 126.7L369.1 156.1L371.0 181.6L373.2 205.0L375.6 224.8L377.5 237.8L379.4 248.4L381.4 258.0L383.8 267.0L386.0 274.0L388.9 281.6L391.8 287.5L393.3 289.9L395.5 293.1L398.4 296.4L402.1 299.4L406.4 302.1L411.6 304.4L417.4 306.7L424.7 309.0L432.8 311.1L443.0 313.3L459.9 316.6L484.0 320.9L518.4 326.7L549.9 331.8L598.2 338.9L645.0 345.0" stroke="#4D2BF8" stroke-width="1.0"/><path d="M352.3 399.5L352.7 -30.0L361.7 -30.0L364.2 56.6L365.6 94.8L367.1 125.3L368.8 154.8L370.7 180.3L372.9 203.8L375.3 223.6L377.2 236.7L379.1 247.4L381.3 257.8L383.8 267.4L386.0 274.3L388.9 281.9L391.8 287.8L395.5 293.4L398.4 296.7L402.1 299.8L406.4 302.5L411.6 304.9L418.2 307.4L425.5 309.7L433.5 311.8L443.8 314.0L460.6 317.3L484.7 321.5L517.7 327.0L548.4 331.9L597.4 339.1L645.0 345.2" stroke="#3C32FF" stroke-width="1.0"/><path d="M352.3 399.5L353.0 -30.0L361.2 -30.0L363.9 57.6L365.3 95.0L366.8 125.2L368.5 154.4L370.4 179.7L372.5 201.7L374.8 221.8L376.9 236.0L378.8 246.8L381.1 257.8L383.8 267.9L386.0 274.8L388.9 282.3L391.8 288.2L395.5 293.8L398.4 297.1L402.1 300.3L406.4 303.0L411.6 305.4L418.2 307.9L425.5 310.2L434.3 312.4L444.5 314.7L461.3 317.9L484.7 322.0L546.9 332.1L596.7 339.3L645.0 345.4" stroke="#2446FF" stroke-width="1.0"/><path d="M352.3 399.5L353.5 -30.0L360.6 -30.0L360.8 -29.5L363.3 53.7L364.7 90.6L366.3 124.0L368.1 153.0L370.0 178.3L372.1 200.3L374.4 220.4L376.3 233.8L378.2 245.0L380.5 256.2L383.0 266.1L386.0 275.4L388.9 282.8L391.8 288.7L395.5 294.3L398.4 297.6L402.1 300.7L406.4 303.5L411.6 305.9L418.2 308.5L425.5 310.7L434.3 313.0L444.5 315.2L461.3 318.4L484.0 322.4L545.5 332.2L596.0 339.4L645.0 345.6" stroke="#0C5AFF" stroke-width="1.0"/><path d="M352.3 399.5L353.3 126.6L354.2 -30.0L359.9 -30.0L362.8 58.7L364.3 93.1L365.9 125.0L367.5 151.1L369.4 176.4L371.5 198.4L373.7 217.5L375.6 231.2L377.6 243.5L380.3 256.3L383.0 267.1L386.0 276.3L388.9 283.5L391.8 289.3L395.5 294.8L398.4 298.1L402.1 301.3L406.4 304.0L411.6 306.5L418.2 309.0L425.5 311.3L434.3 313.5L444.5 315.7L461.3 319.0L483.3 322.7L514.0 327.7L544.8 332.4L596.0 339.7L645.0 345.8" stroke="#0072FF" stroke-width="1.0"/><path d="M352.3 399.5L354.2 86.7L355.1 7.6L356.0 -30.0L358.0 -30.0L358.2 -28.6L362.7 75.8L365.5 128.8L367.1 153.5L368.7 174.2L370.4 193.3L372.5 211.8L374.7 228.2L377.0 242.5L379.5 254.7L382.3 265.8L385.2 275.2L388.2 282.7L391.8 290.0L395.5 295.4L398.4 298.7L402.1 301.9L406.4 304.6L411.6 307.1L418.2 309.6L425.5 311.8L434.3 314.0L444.5 316.3L461.3 319.5L483.3 323.2L543.3 332.6L595.2 339.8L645.0 346.0" stroke="#008EFF" stroke-width="1.0"/><path d="M352.3 399.5L353.8 215.7L354.9 111.8L355.5 77.9L356.3 50.5L357.0 36.6L357.3 33.9L357.7 32.5L358.2 33.6L358.6 36.5L359.6 48.4L364.3 124.9L367.4 167.4L370.4 199.5L372.2 214.2L374.0 227.0L376.2 240.5L378.4 251.7L381.0 262.7L383.8 272.2L386.7 280.3L389.6 286.8L393.3 293.1L396.9 297.9L400.6 301.4L404.3 304.0L408.6 306.4L413.8 308.6L420.4 310.9L428.4 313.2L437.2 315.3L448.2 317.5L465.0 320.6L487.7 324.4L546.2 333.3L596.0 340.2L645.0 346.1" stroke="#00AAFF" stroke-width="1.0"/><path d="M352.3 399.5L354.1 240.9L355.4 157.0L356.1 126.6L356.8 106.5L357.7 93.4L358.2 90.5L358.6 89.4L359.0 89.9L359.6 92.4L360.8 101.9L366.3 167.5L369.4 197.9L372.6 222.9L376.2 243.9L378.2 253.8L380.7 263.7L383.0 271.6L386.0 279.8L388.9 286.4L391.8 291.7L395.5 296.9L399.1 300.8L402.8 303.7L406.4 305.9L411.6 308.3L417.4 310.5L424.0 312.6L432.1 314.6L441.6 316.7L452.5 318.9L470.1 321.9L493.5 325.7L549.1 334.1L597.4 340.6L645.0 346.3" stroke="#00C4F1" stroke-width="1.0"/><path d="M352.3 399.5L354.2 270.9L355.8 193.1L356.7 165.7L357.6 147.9L358.6 136.9L359.0 134.7L359.6 133.6L359.9 133.8L360.2 134.3L360.8 136.3L362.1 144.2L368.0 195.3L371.3 220.4L374.5 239.7L378.1 256.4L380.5 265.7L383.0 273.6L385.2 279.6L388.2 286.2L391.1 291.6L394.0 296.0L397.7 300.2L401.3 303.4L405.0 305.8L409.4 308.1L414.5 310.2L420.4 312.1L427.7 314.1L435.7 316.0L456.9 320.2L498.6 326.9L552.1 334.8L598.9 341.0L645.0 346.5" stroke="#00DEE3" stroke-width="1.0"/><path d="M352.3 399.5L354.5 286.9L356.4 217.9L357.3 197.3L358.3 181.3L359.5 171.6L360.1 169.4L360.6 168.6L361.2 169.0L362.0 170.7L363.6 178.0L369.9 219.3L373.7 240.6L377.2 256.6L380.5 268.6L383.0 275.9L385.2 281.5L388.2 287.7L391.1 292.9L394.0 297.0L396.9 300.4L399.9 303.1L403.5 305.7L407.9 308.1L412.3 310.0L417.4 311.8L424.0 313.8L431.3 315.6L439.4 317.4L461.3 321.4L503.8 328.1L555.0 335.5L600.4 341.4L645.0 346.6" stroke="#00EFC0" stroke-width="1.0"/><path d="M352.3 399.5L354.9 295.4L356.0 263.9L357.0 239.0L358.0 220.8L359.2 207.0L360.3 199.5L361.1 197.3L361.8 196.6L362.5 197.1L363.3 198.5L364.9 204.0L371.8 238.2L376.0 256.5L379.2 267.7L383.0 278.4L385.2 283.6L388.2 289.4L390.4 293.1L393.3 297.3L396.2 300.6L399.1 303.4L402.1 305.6L405.7 307.8L410.1 309.9L414.5 311.5L420.4 313.4L426.9 315.2L443.8 318.8L466.5 322.8L508.9 329.3L558.7 336.3L602.6 341.9L645.0 346.8" stroke="#00F788" stroke-width="1.0"/><path d="M352.3 399.5L355.1 311.9L356.3 282.5L357.4 259.3L358.6 242.2L359.9 229.4L360.6 224.9L361.4 221.8L362.1 220.1L362.5 219.5L363.0 219.3L363.7 219.6L364.6 220.9L366.2 225.2L374.0 254.5L377.8 267.3L381.4 277.3L385.2 285.8L387.4 290.0L390.4 294.7L392.5 297.7L395.5 301.0L398.4 303.8L401.3 306.0L404.3 307.8L407.9 309.7L412.3 311.5L417.4 313.2L423.3 314.9L430.6 316.7L447.4 320.0L471.6 324.1L514.7 330.5L561.6 336.9L604.0 342.3L645.0 346.9" stroke="#00FF50" stroke-width="1.0"/><path d="M352.3 399.5L355.4 321.5L356.7 294.9L358.0 273.9L359.3 258.4L360.8 247.0L361.5 243.3L362.4 240.3L363.3 238.6L364.2 237.9L364.9 238.1L365.5 238.7L367.4 242.2L369.4 247.5L375.4 265.4L378.6 274.1L383.0 284.1L387.4 292.0L389.6 295.4L392.5 299.1L394.7 301.6L397.7 304.3L400.6 306.5L403.5 308.3L407.2 310.2L410.8 311.7L415.2 313.3L421.1 315.0L435.0 318.2L453.3 321.6L478.2 325.5L520.6 331.7L565.2 337.7L605.5 342.7L645.0 347.1" stroke="#2BFF35" stroke-width="1.0"/><path d="M352.3 399.5L355.8 327.0L357.3 303.2L358.6 286.2L360.1 272.1L361.7 261.8L362.4 258.7L363.3 256.0L364.2 254.3L365.2 253.4L366.1 253.6L366.9 254.2L368.0 255.4L369.1 257.3L371.8 262.7L377.6 276.3L381.3 283.9L386.0 292.1L390.4 298.2L394.7 302.9L396.9 304.9L399.9 307.1L402.8 308.9L405.7 310.4L413.0 313.3L418.2 314.9L424.0 316.4L437.9 319.4L456.9 322.7L484.0 326.8L525.7 332.7L568.2 338.3L606.9 343.0L645.0 347.3" stroke="#55FF1B" stroke-width="1.0"/><path d="M352.3 399.5L356.3 332.5L357.9 311.0L359.3 295.4L360.9 282.7L362.7 273.4L363.6 270.4L364.6 267.9L365.5 266.6L366.6 265.9L367.5 265.9L368.5 266.5L369.7 267.5L370.9 269.0L373.4 273.0L380.0 284.8L383.8 291.0L388.2 297.1L392.5 302.0L394.7 304.1L397.7 306.4L402.8 309.7L408.6 312.4L416.0 314.9L427.7 317.8L443.0 320.8L463.5 324.2L491.3 328.3L531.6 333.8L571.8 339.0L609.1 343.5L645.0 347.4" stroke="#80FF00" stroke-width="1.9"/><path d="M352.3 399.5L356.5 339.0L358.3 319.1L360.1 303.5L361.8 292.0L363.7 283.6L364.7 280.7L365.8 278.7L366.9 277.3L368.1 276.8L369.1 276.8L370.2 277.2L371.3 278.0L372.6 279.2L375.1 282.3L383.0 293.2L386.7 297.8L391.1 302.4L395.5 306.2L400.6 309.6L405.7 312.1L412.3 314.6L419.6 316.6L432.1 319.4L448.9 322.4L470.8 325.8L500.8 330.0L538.9 335.1L576.2 339.8L611.3 343.9L645.0 347.6" stroke="#99FF00" stroke-width="1.0"/><path d="M352.3 399.5L354.9 366.2L357.0 342.9L358.9 324.8L360.8 310.5L362.8 299.3L364.9 292.0L365.9 289.6L367.1 287.7L368.4 286.4L369.7 285.9L370.7 285.8L371.9 286.1L374.5 287.8L376.6 289.7L385.2 298.9L388.9 302.5L393.3 306.2L397.7 309.1L402.8 311.9L407.9 314.0L414.5 316.1L422.5 318.1L435.7 320.7L453.3 323.6L477.4 327.2L508.9 331.5L545.5 336.3L579.9 340.5L612.8 344.3L645.0 347.7" stroke="#B3FF00" stroke-width="1.0"/><path d="M352.3 399.5L355.2 367.8L357.4 346.5L359.5 329.9L361.5 316.7L363.7 306.4L364.9 302.4L365.9 299.6L367.2 297.0L368.5 295.2L370.0 294.0L371.5 293.5L372.6 293.4L373.8 293.7L376.4 295.0L379.8 297.4L387.4 303.6L391.1 306.4L395.5 309.3L400.6 312.0L405.7 314.2L411.6 316.1L418.9 318.0L426.9 319.7L441.6 322.3L460.6 325.3L519.1 333.2L585.0 341.3L645.0 347.9" stroke="#CCFF00" stroke-width="1.0"/><path d="M352.3 399.5L355.5 369.3L357.9 349.8L360.2 333.4L362.4 321.4L364.9 311.6L366.1 308.2L367.2 305.6L368.5 303.4L370.0 301.6L371.6 300.4L373.2 299.9L374.5 299.8L375.9 300.0L379.2 301.3L382.3 303.0L394.0 310.1L398.4 312.3L403.5 314.4L408.6 316.1L415.2 317.9L422.5 319.5L431.3 321.2L446.7 323.7L467.2 326.7L527.9 334.7L588.7 342.0L645.0 348.0" stroke="#E6FF00" stroke-width="1.0"/><path d="M352.3 399.5L355.7 371.9L358.3 352.7L360.8 337.5L363.3 325.6L365.8 317.0L367.1 313.7L368.5 310.8L370.0 308.6L371.6 307.0L373.4 305.8L375.1 305.3L376.6 305.2L378.2 305.3L381.6 306.2L396.9 313.2L402.1 315.1L407.9 316.9L420.4 319.8L437.9 322.9L476.7 328.4L538.2 336.3L593.8 342.8L645.0 348.2" stroke="#FFFF00" stroke-width="1.0"/><path d="M352.3 399.5L356.0 373.2L358.7 355.3L361.5 340.4L364.2 329.4L365.5 325.1L366.9 321.1L368.4 317.8L370.0 315.1L371.6 313.0L373.4 311.4L375.1 310.4L377.2 309.8L380.3 309.6L383.8 310.2L401.3 316.1L407.2 317.7L413.8 319.2L427.7 321.8L447.4 324.9L489.9 330.6L548.4 337.8L598.2 343.5L645.0 348.4" stroke="#FFE600" stroke-width="1.0"/><path d="M352.3 399.5L356.3 374.3L359.3 356.8L362.3 343.0L365.2 332.3L366.6 328.1L368.3 324.3L369.9 321.2L371.6 318.6L373.4 316.6L375.3 315.1L377.3 314.1L379.7 313.4L383.0 313.2L387.4 313.8L406.4 318.5L422.5 321.7L439.4 324.3L462.1 327.4L507.4 333.1L559.4 339.3L603.3 344.2L645.0 348.5" stroke="#FFCC00" stroke-width="1.0"/><path d="M352.3 399.5L356.7 374.5L359.9 358.3L363.1 344.9L366.2 334.9L367.8 330.8L369.6 327.1L371.3 324.1L373.2 321.6L375.3 319.6L377.3 318.2L379.7 317.1L382.3 316.4L386.0 316.2L390.4 316.6L413.0 320.8L429.9 323.5L455.5 327.0L490.6 331.5L574.0 341.2L610.6 345.2L645.0 348.7" stroke="#FFB300" stroke-width="1.0"/><path d="M352.3 399.5L357.0 375.6L360.5 359.7L363.9 347.0L367.2 337.3L369.0 333.2L370.9 329.6L372.8 326.7L374.8 324.2L376.9 322.3L379.2 320.8L381.6 319.7L384.5 319.0L386.7 318.7L389.6 318.6L395.5 319.0L440.1 325.5L498.6 332.8L577.7 341.9L645.0 348.8" stroke="#FF9900" stroke-width="1.0"/><path d="M352.3 399.5L357.3 376.5L361.1 360.9L364.7 348.6L366.5 343.6L368.4 339.0L370.3 335.0L372.3 331.5L374.5 328.5L376.7 326.1L379.1 324.2L381.6 322.8L384.5 321.6L387.4 321.0L390.4 320.6L394.0 320.6L402.8 321.2L460.6 328.6L525.0 336.2L588.7 343.3L645.0 348.9" stroke="#FF8000" stroke-width="1.9"/><path d="M352.3 399.5L357.4 377.2L361.4 361.9L365.2 349.7L367.1 344.7L369.1 340.0L371.2 336.0L373.2 332.7L375.4 329.9L377.8 327.5L380.3 325.5L383.0 324.0L386.0 322.9L388.9 322.3L392.5 321.9L396.9 321.8L407.9 322.6L473.8 330.6L537.4 337.9L594.5 344.1L645.0 349.1" stroke="#FF7300" stroke-width="1.0"/><path d="M352.3 399.5L357.7 377.2L361.8 362.3L365.8 350.4L367.7 345.6L369.7 341.2L371.8 337.4L374.0 334.0L376.3 331.1L378.6 328.8L381.1 326.9L383.8 325.4L386.7 324.3L390.4 323.4L394.7 323.0L399.1 322.9L405.0 323.2L412.3 323.8L486.9 332.5L545.5 339.1L598.2 344.7L645.0 349.2" stroke="#FF6600" stroke-width="1.0"/><path d="M352.3 399.5L357.9 377.8L362.1 363.1L366.2 351.4L368.3 346.5L370.4 342.0L372.6 338.1L375.0 334.8L377.3 332.0L379.8 329.7L382.3 327.9L385.2 326.4L388.2 325.3L391.8 324.5L396.2 324.0L401.3 323.9L407.9 324.2L416.7 324.9L552.1 340.0L601.1 345.1L645.0 349.4" stroke="#FF5A00" stroke-width="1.0"/><path d="M352.3 399.5L358.0 378.3L362.4 363.8L366.6 352.2L368.8 347.2L371.0 342.9L373.4 339.0L375.7 335.8L378.2 333.0L380.7 330.8L383.8 328.7L386.7 327.3L389.6 326.2L393.3 325.4L398.4 324.9L404.3 324.8L411.6 325.1L420.4 325.9L556.5 340.7L602.6 345.5L645.0 349.5" stroke="#FF4D00" stroke-width="1.0"/><path d="M352.3 399.5L358.3 378.2L362.8 364.0L367.2 352.6L369.4 347.9L371.8 343.5L374.1 339.8L376.4 336.7L378.9 334.0L381.6 331.7L384.5 329.8L387.4 328.3L391.1 327.1L394.7 326.3L399.9 325.7L406.4 325.6L413.8 325.9L424.0 326.8L560.1 341.4L604.8 345.9L645.0 349.7" stroke="#FF4000" stroke-width="1.0"/><path d="M352.3 399.5L358.4 378.7L363.1 364.6L367.7 353.3L369.9 348.7L372.2 344.5L374.5 340.8L377.0 337.6L379.7 334.8L382.3 332.6L385.2 330.6L388.2 329.2L391.8 327.9L395.5 327.1L401.3 326.4L407.9 326.3L416.0 326.6L426.2 327.4L562.3 341.8L605.5 346.1L645.0 349.8" stroke="#FF3300" stroke-width="1.0"/><path d="M352.3 399.5L358.7 378.6L363.6 364.7L368.3 353.6L370.6 348.9L372.9 344.9L375.4 341.2L378.1 338.0L380.8 335.2L383.8 332.9L386.7 331.1L389.6 329.7L393.3 328.5L396.9 327.7L402.8 327.1L409.4 327.0L417.4 327.3L428.4 328.1L565.2 342.3L645.0 349.9" stroke="#FF2600" stroke-width="1.0"/><path d="M352.3 399.5L358.9 378.9L363.9 365.2L366.3 359.1L368.7 354.1L371.0 349.6L373.5 345.4L376.2 341.7L378.8 338.6L381.6 335.9L384.5 333.6L387.4 331.9L391.1 330.2L394.7 329.1L398.4 328.3L404.3 327.7L411.6 327.6L420.4 327.9L431.3 328.8L566.7 342.6L645.0 350.0" stroke="#FF1A00" stroke-width="1.0"/><path d="M352.3 399.5L358.9 379.6L364.0 365.9L366.5 360.0L369.0 354.8L371.5 350.1L374.0 346.1L376.6 342.5L379.4 339.2L382.3 336.5L385.2 334.3L388.2 332.5L391.8 330.9L395.5 329.8L399.1 329.0L405.0 328.3L412.3 328.1L421.1 328.4L432.8 329.3L568.9 343.0L645.0 350.1" stroke="#FF0D00" stroke-width="1.0"/><path d="M352.3 399.5L359.2 379.5L364.3 366.2L369.3 355.4L371.8 350.9L374.4 346.7L377.2 343.0L380.0 339.8L383.0 337.0L386.0 334.9L388.9 333.2L392.5 331.5L396.2 330.4L399.9 329.6L406.4 328.8L413.8 328.7L422.5 329.0L434.3 329.8L571.1 343.4L645.0 350.3" stroke="#FF0000" stroke-width="1.9"/><path d="M352.3 399.5L359.3 379.7L364.6 366.4L367.2 360.6L369.7 355.7L372.3 351.1L375.0 347.0L377.8 343.4L380.5 340.3L383.8 337.5L386.7 335.4L389.6 333.7L393.3 332.1L396.9 330.9L401.3 330.0L407.9 329.3L415.2 329.1L424.7 329.5L436.5 330.3L571.8 343.6L645.0 350.4" stroke="#F20000" stroke-width="1.0"/><path d="M352.3 399.5L359.5 379.8L364.9 366.6L367.5 361.0L370.2 355.9L372.8 351.4L375.4 347.5L378.2 343.9L381.1 340.8L384.5 337.8L387.4 335.8L390.4 334.2L394.0 332.6L397.7 331.4L402.1 330.5L408.6 329.8L416.0 329.6L425.5 329.9L437.2 330.7L573.3 343.9L645.0 350.5" stroke="#E60000" stroke-width="1.0"/><path d="M352.3 399.5L359.6 380.0L365.2 366.8L367.8 361.3L370.4 356.3L373.1 351.9L375.9 347.9L378.6 344.4L381.6 341.3L384.5 338.7L388.2 336.2L391.1 334.6L394.7 333.0L398.4 331.9L402.8 330.9L409.4 330.2L417.4 330.0L426.9 330.3L438.6 331.1L574.0 344.1L645.0 350.6" stroke="#D90000" stroke-width="1.0"/><path d="M352.3 399.5L359.6 380.5L365.3 367.2L368.1 361.5L370.7 356.7L373.4 352.4L376.2 348.4L378.8 345.1L381.6 342.2L384.5 339.5L388.2 336.9L391.8 334.9L395.5 333.4L399.1 332.3L403.5 331.3L410.1 330.6L418.2 330.3L427.7 330.6L439.4 331.4L574.8 344.4L645.0 350.7" stroke="#CC0000" stroke-width="1.0"/><path d="M352.3 399.5L359.8 380.5L365.5 367.6L368.3 362.0L371.0 357.0L373.8 352.5L376.6 348.6L379.4 345.3L382.3 342.2L385.2 339.7L388.9 337.2L392.5 335.2L396.2 333.7L399.9 332.6L404.3 331.7L410.8 330.9L418.9 330.7L428.4 330.9L440.8 331.8L574.8 344.5L645.0 350.7" stroke="#C00000" stroke-width="1.0"/><path d="M352.3 399.5L359.9 380.6L365.8 367.6L368.7 361.9L371.5 357.0L374.3 352.6L377.0 348.8L380.0 345.4L383.0 342.3L386.0 339.8L389.6 337.4L393.3 335.4L396.9 334.0L400.6 332.9L405.0 332.0L411.6 331.2L419.6 330.9L429.1 331.2L441.6 332.0L574.8 344.6L645.0 350.8" stroke="#B30000" stroke-width="1.0"/><path d="M352.3 399.5L360.1 380.6L365.9 367.9L368.8 362.2L371.6 357.4L374.4 353.1L377.3 349.2L380.1 345.9L383.0 342.9L386.0 340.5L389.6 337.9L393.3 336.0L396.9 334.4L401.3 333.1L405.7 332.2L412.3 331.5L420.4 331.2L429.9 331.5L442.3 332.3L574.8 344.7L645.0 350.9" stroke="#A60000" stroke-width="1.0"/><path d="M352.3 399.5L360.2 380.6L366.2 367.8L369.1 362.3L372.1 357.3L374.8 353.1L377.8 349.2L380.7 345.9L383.8 342.9L386.7 340.5L390.4 338.0L394.0 336.1L397.7 334.6L402.1 333.3L406.4 332.4L413.0 331.7L421.1 331.4L430.6 331.7L443.0 332.5L574.8 344.8L645.0 351.0" stroke="#990000" stroke-width="1.0"/><path d="M352.3 399.5L360.2 380.9L366.2 368.3L369.1 362.8L372.1 357.9L375.0 353.5L377.9 349.6L380.8 346.3L383.8 343.4L386.7 341.0L390.4 338.5L394.0 336.5L397.7 335.0L402.1 333.7L406.4 332.7L413.0 331.9L421.1 331.6L430.6 331.9L443.0 332.6L462.8 334.4L574.8 344.9L645.0 351.0" stroke="#8D0000" stroke-width="1.0"/><path d="M352.3 399.5L360.3 380.9L366.5 368.2L369.4 362.8L372.3 357.9L375.3 353.6L378.2 349.8L381.3 346.3L384.5 343.3L387.4 340.9L391.1 338.5L394.7 336.6L398.4 335.1L402.8 333.8L407.2 332.9L413.8 332.1L421.8 331.8L431.3 332.0L443.8 332.8L574.0 344.9L645.0 351.1" stroke="#800000" stroke-width="1.9"/></g>
<path d="M74.23 399.50L74.23 395.50M74.23 7.50L74.23 11.50M88.87 399.50L88.87 395.50M88.87 7.50L88.87 11.50M103.50 399.50L103.50 395.50M103.50 7.50L103.50 11.50M118.14 399.50L118.14 392.00M118.14 7.50L118.14 15.00M132.78 399.50L132.78 395.50M132.78 7.50L132.78 11.50M147.41 399.50L147.41 395.50M147.41 7.50L147.41 11.50M162.05 399.50L162.05 395.50M162.05 7.50L162.05 11.50M176.68 399.50L176.68 392.00M176.68 7.50L176.68 15.00M191.31 399.50L191.31 395.50M191.31 7.50L191.31 11.50M205.95 399.50L205.95 395.50M205.95 7.50L205.95 11.50M220.59 399.50L220.59 395.50M220.59 7.50L220.59 11.50M235.22 399.50L235.22 392.00M235.22 7.50L235.22 15.00M249.86 399.50L249.86 395.50M249.86 7.50L249.86 11.50M264.49 399.50L264.49 395.50M264.49 7.50L264.49 11.50M279.12 399.50L279.12 395.50M279.12 7.50L279.12 11.50M293.76 399.50L293.76 392.00M293.76 7.50L293.76 15.00M308.40 399.50L308.40 395.50M308.40 7.50L308.40 11.50M323.03 399.50L323.03 395.50M323.03 7.50L323.03 11.50M337.67 399.50L337.67 395.50M337.67 7.50L337.67 11.50M366.94 399.50L366.94 395.50M366.94 7.50L366.94 11.50M381.57 399.50L381.57 395.50M381.57 7.50L381.57 11.50M396.21 399.50L396.21 395.50M396.21 7.50L396.21 11.50M410.84 399.50L410.84 392.00M410.84 7.50L410.84 15.00M425.48 399.50L425.48 395.50M425.48 7.50L425.48 11.50M440.11 399.50L440.11 395.50M440.11 7.50L440.11 11.50M454.75 399.50L454.75 395.50M454.75 7.50L454.75 11.50M469.38 399.50L469.38 392.00M469.38 7.50L469.38 15.00M484.01 399.50L484.01 395.50M484.01 7.50L484.01 11.50M498.65 399.50L498.65 395.50M498.65 7.50L498.65 11.50M513.29 399.50L513.29 395.50M513.29 7.50L513.29 11.50M527.92 399.50L527.92 392.00M527.92 7.50L527.92 15.00M542.56 399.50L542.56 395.50M542.56 7.50L542.56 11.50M557.19 399.50L557.19 395.50M557.19 7.50L557.19 11.50M571.83 399.50L571.83 395.50M571.83 7.50L571.83 11.50M586.46 399.50L586.46 392.00M586.46 7.50L586.46 15.00M601.10 399.50L601.10 395.50M601.10 7.50L601.10 11.50M615.73 399.50L615.73 395.50M615.73 7.50L615.73 11.50M630.37 399.50L630.37 395.50M630.37 7.50L630.37 11.50M59.60 373.37L63.60 373.37M352.30 373.37L348.30 373.37M352.30 373.37L356.30 373.37M645.00 373.37L641.00 373.37M59.60 347.23L63.60 347.23M352.30 347.23L348.30 347.23M352.30 347.23L356.30 347.23M645.00 347.23L641.00 347.23M59.60 321.10L63.60 321.10M352.30 321.10L348.30 321.10M352.30 321.10L356.30 321.10M645.00 321.10L641.00 321.10M59.60 294.97L63.60 294.97M352.30 294.97L348.30 294.97M352.30 294.97L356.30 294.97M645.00 294.97L641.00 294.97M59.60 268.83L67.10 268.83M352.30 268.83L344.80 268.83M352.30 268.83L359.80 268.83M645.00 268.83L637.50 268.83M59.60 242.70L63.60 242.70M352.30 242.70L348.30 242.70M352.30 242.70L356.30 242.70M645.00 242.70L641.00 242.70M59.60 216.57L63.60 216.57M352.30 216.57L348.30 216.57M352.30 216.57L356.30 216.57M645.00 216.57L641.00 216.57M59.60 190.43L63.60 190.43M352.30 190.43L348.30 190.43M352.30 190.43L356.30 190.43M645.00 190.43L641.00 190.43M59.60 164.30L63.60 164.30M352.30 164.30L348.30 164.30M352.30 164.30L356.30 164.30M645.00 164.30L641.00 164.30M59.60 138.17L67.10 138.17M352.30 138.17L344.80 138.17M352.30 138.17L359.80 138.17M645.00 138.17L637.50 138.17M59.60 112.03L63.60 112.03M352.30 112.03L348.30 112.03M352.30 112.03L356.30 112.03M645.00 112.03L641.00 112.03M59.60 85.90L63.60 85.90M352.30 85.90L348.30 85.90M352.30 85.90L356.30 85.90M645.00 85.90L641.00 85.90M59.60 59.77L63.60 59.77M352.30 59.77L348.30 59.77M352.30 59.77L356.30 59.77M645.00 59.77L641.00 59.77M59.60 33.63L63.60 33.63M352.30 33.63L348.30 33.63M352.30 33.63L356.30 33.63M645.00 33.63L641.00 33.63" stroke="#000" stroke-width="1.2" fill="none"/>
<rect x="59.6" y="7.5" width="585.4" height="392.0" fill="none" stroke="#000" stroke-width="1.6"/>
<line x1="352.3" y1="7.5" x2="352.3" y2="399.5" stroke="#000" stroke-width="1.6"/>
<text x="59.6" y="422.5" font-size="18" text-anchor="middle">0</text>
<text x="118.1" y="422.5" font-size="18" text-anchor="middle">200</text>
<text x="176.7" y="422.5" font-size="18" text-anchor="middle">400</text>
<text x="235.2" y="422.5" font-size="18" text-anchor="middle">600</text>
<text x="293.8" y="422.5" font-size="18" text-anchor="middle">800</text>
<text x="352.3" y="422.5" font-size="18" text-anchor="middle">0</text>
<text x="410.8" y="422.5" font-size="18" text-anchor="middle">200</text>
<text x="469.4" y="422.5" font-size="18" text-anchor="middle">400</text>
<text x="527.9" y="422.5" font-size="18" text-anchor="middle">600</text>
<text x="586.5" y="422.5" font-size="18" text-anchor="middle">800</text>
<text x="645.0" y="422.5" font-size="18" text-anchor="middle">1000</text>
<text x="51.5" y="405.5" font-size="18" text-anchor="end">0</text>
<text x="653" y="405.5" font-size="18">0</text>
<text x="51.5" y="274.8" font-size="18" text-anchor="end">1</text>
<text x="653" y="274.8" font-size="18">1</text>
<text x="51.5" y="144.2" font-size="18" text-anchor="end">2</text>
<text x="653" y="144.2" font-size="18">2</text>
<text x="51.5" y="13.5" font-size="18" text-anchor="end">3</text>
<text x="653" y="13.5" font-size="18">3</text>
<text x="206" y="457.3" font-size="22" text-anchor="middle">Energy (meV)</text>
<text x="498" y="457.3" font-size="22" text-anchor="middle">Energy (meV)</text>
<text transform="translate(21.4,206) rotate(-90)" font-size="21.5" text-anchor="middle">σ<tspan font-size="13" dy="5">1</tspan><tspan dy="-5">(ω) (10</tspan><tspan font-size="12.5" dy="-11">3</tspan><tspan dy="11"> Ω</tspan><tspan font-size="12.5" dy="-11">-1</tspan><tspan dy="11">cm</tspan><tspan font-size="12.5" dy="-11">-1</tspan><tspan dy="11">)</tspan></text>
<text transform="translate(701,191) rotate(-90)" font-size="21.5" text-anchor="middle">σ<tspan font-size="13" dy="5">2</tspan><tspan dy="-5">(ω) (10</tspan><tspan font-size="12.5" dy="-11">3</tspan><tspan dy="11"> Ω</tspan><tspan font-size="12.5" dy="-11">-1</tspan><tspan dy="11">cm</tspan><tspan font-size="12.5" dy="-11">-1</tspan><tspan dy="11">)</tspan></text>
<text x="379.5" y="38.2" font-size="25">(b)</text>
<text x="536.3" y="61" font-size="23.8">With PG</text>
<text x="468" y="303.6" font-size="20.5" style="fill:#800080">0 K</text>
<text x="438.5" y="368.8" font-size="20.5" style="fill:#800000">500 K</text>
<line x1="421.2" y1="365.4" x2="454.2" y2="282" stroke="#000" stroke-width="1.5" stroke-dasharray="6,4.5"/>
<path d="M456.4 276.2 L452.4 284.2 L456.6 285.6 Z" fill="#000"/>
<rect x="142.8" y="22.6" width="193.0" height="194.20000000000002" fill="#fff"/>
<path d="M142.80 216.80L143.28 216.79L143.77 216.77L144.25 216.73L144.73 216.67L145.21 216.60L145.70 216.52L146.18 216.41L146.66 216.30L147.14 216.16L147.62 216.01L148.11 215.85L148.59 215.67L149.07 215.47L149.56 215.26L150.04 215.03L150.52 214.79L151.00 214.53L151.49 214.25L151.97 213.96L152.45 213.65L152.93 213.33L153.42 212.99L153.90 212.64L154.38 212.27L154.86 211.88L155.34 211.48L155.83 211.07L156.31 210.63L156.79 210.19L157.28 209.72L157.76 209.24L158.24 208.75L158.72 208.23L159.21 207.71L159.69 207.17L160.17 206.61L160.65 206.03L161.14 205.44L161.62 204.84L162.10 204.22L162.58 203.58L163.06 202.93L163.55 202.26L164.03 201.57L164.51 200.87L165.00 200.16L165.48 199.43L165.96 198.68L166.44 197.92L166.93 197.14L167.41 196.34L167.89 195.53L168.37 194.71L168.86 193.87L169.34 193.01L169.82 192.14L170.30 191.25L170.79 190.34L171.27 189.42L171.75 188.49L172.23 187.53L172.72 186.57L173.20 185.58L173.68 184.58L174.16 183.57L174.65 182.54L175.13 181.49L175.61 180.43L176.09 179.35L176.58 178.26L177.06 177.15L177.54 176.03L178.02 174.89L178.50 173.73L178.99 172.56L179.47 171.37L179.95 170.17L180.44 168.95L180.92 167.71L181.40 166.46L181.88 165.20L182.37 163.92L182.85 162.62L183.33 161.30L183.81 159.97L184.30 158.63L184.78 156.82L185.26 154.58L185.74 152.38L186.23 150.22L186.71 148.10L187.19 146.02L187.67 143.97L188.16 141.96L188.64 139.98L189.12 138.03L189.60 136.11L190.09 134.22L190.57 132.36L191.05 130.53L191.53 128.73L192.02 126.95L192.50 125.20L192.98 123.48L193.46 121.78L193.94 120.10L194.43 118.44L194.91 116.81L195.39 115.20L195.88 113.61L196.36 112.05L196.84 110.50L197.32 108.97L197.81 107.46L198.29 105.97L198.77 104.50L199.25 103.04L199.74 101.61L200.22 100.18L200.70 98.78L201.18 97.39L201.67 96.02L202.15 94.66L202.63 93.32L203.11 91.99L203.59 90.67L204.08 89.37L204.56 88.08L205.04 86.81L205.53 85.55L206.01 84.30L206.49 83.06L206.97 81.84L207.46 80.62L207.94 79.42L208.42 78.23L208.90 77.05L209.38 75.88L209.87 74.72L210.35 73.57L210.83 72.44L211.31 71.31L211.80 70.19L212.28 69.08L212.76 67.98L213.25 66.89L213.73 65.80L214.21 64.73L214.69 63.66L215.18 62.61L215.66 61.56L216.14 60.52L216.62 59.48L217.11 58.46L217.59 57.44L218.07 56.43L218.55 55.43L219.04 54.43L219.52 53.44L220.00 52.46L220.48 51.48L220.97 50.51L221.45 49.55L221.93 48.59L222.41 47.64L222.90 46.70L223.38 45.76L223.86 44.83L224.34 43.90L224.82 42.98L225.31 42.07L225.79 41.16L226.27 40.25L335.80 40.25" fill="none" stroke="#800080" stroke-width="2"/>
<path d="M142.80 210.92L143.28 210.91L143.77 210.88L144.25 210.85L144.73 210.79L145.21 210.73L145.70 210.64L146.18 210.54L146.66 210.43L147.14 210.30L147.62 210.15L148.11 210.00L148.59 209.82L149.07 209.63L149.56 209.42L150.04 209.20L150.52 208.97L151.00 208.72L151.49 208.45L151.97 208.17L152.45 207.87L152.93 207.56L153.42 207.24L153.90 206.89L154.38 206.54L154.86 206.16L155.34 205.78L155.83 205.37L156.31 204.95L156.79 204.52L157.28 204.07L157.76 203.61L158.24 203.13L158.72 202.64L159.21 202.13L159.69 201.60L160.17 201.06L160.65 200.51L161.14 199.94L161.62 199.35L162.10 198.75L162.58 198.13L163.06 197.50L163.55 196.86L164.03 196.20L164.51 195.52L165.00 194.83L165.48 194.12L165.96 193.40L166.44 192.66L166.93 191.91L167.41 191.14L167.89 190.36L168.37 189.56L168.86 188.75L169.34 187.92L169.82 187.07L170.30 186.21L170.79 185.34L171.27 184.45L171.75 183.54L172.23 182.62L172.72 181.69L173.20 180.74L173.68 179.77L174.16 178.79L174.65 177.80L175.13 176.79L175.61 175.76L176.09 174.72L176.58 173.66L177.06 172.59L177.54 171.50L178.02 170.40L178.50 169.28L178.99 168.15L179.47 167.00L179.95 165.84L180.44 164.66L180.92 163.47L181.40 162.26L181.88 161.03L182.37 159.79L182.85 158.54L183.33 157.27L183.81 155.98L184.30 154.68L184.78 152.93L185.26 150.77L185.74 148.65L186.23 146.56L186.71 144.51L187.19 142.49L187.67 140.51L188.16 138.57L188.64 136.65L189.12 134.77L189.60 132.91L190.09 131.09L190.57 129.29L191.05 127.52L191.53 125.78L192.02 124.06L192.50 122.37L192.98 120.70L193.46 119.06L193.94 117.44L194.43 115.84L194.91 114.26L195.39 112.70L195.88 111.17L196.36 109.65L196.84 108.16L197.32 106.68L197.81 105.22L198.29 103.78L198.77 102.36L199.25 100.95L199.74 99.56L200.22 98.19L200.70 96.83L201.18 95.49L201.67 94.16L202.15 92.85L202.63 91.55L203.11 90.26L203.59 88.99L204.08 87.73L204.56 86.49L205.04 85.26L205.53 84.04L206.01 82.83L206.49 81.63L206.97 80.45L207.46 79.28L207.94 78.12L208.42 76.96L208.90 75.82L209.38 74.69L209.87 73.57L210.35 72.46L210.83 71.36L211.31 70.27L211.80 69.19L212.28 68.12L212.76 67.05L213.25 66.00L213.73 64.95L214.21 63.91L214.69 62.88L215.18 61.86L215.66 60.85L216.14 59.84L216.62 58.84L217.11 57.85L217.59 56.87L218.07 55.89L218.55 54.92L219.04 53.96L219.52 53.00L220.00 52.05L220.48 51.11L220.97 50.17L221.45 49.24L221.93 48.32L222.41 47.40L222.90 46.49L223.38 45.58L223.86 44.68L224.34 43.78L224.82 42.89L225.31 42.01L225.79 41.13L226.27 40.25L335.80 40.25" fill="none" stroke="#FF00FF" stroke-width="2" stroke-dasharray="6,3.8"/>
<path d="M142.80 187.38L143.28 187.37L143.77 187.35L144.25 187.32L144.73 187.27L145.21 187.21L145.70 187.14L146.18 187.05L146.66 186.96L147.14 186.84L147.62 186.72L148.11 186.58L148.59 186.43L149.07 186.27L149.56 186.09L150.04 185.90L150.52 185.70L151.00 185.48L151.49 185.25L151.97 185.01L152.45 184.75L152.93 184.49L153.42 184.20L153.90 183.91L154.38 183.60L154.86 183.28L155.34 182.95L155.83 182.60L156.31 182.24L156.79 181.86L157.28 181.48L157.76 181.08L158.24 180.66L158.72 180.24L159.21 179.80L159.69 179.35L160.17 178.88L160.65 178.40L161.14 177.91L161.62 177.41L162.10 176.89L162.58 176.36L163.06 175.81L163.55 175.26L164.03 174.69L164.51 174.10L165.00 173.51L165.48 172.90L165.96 172.27L166.44 171.64L166.93 170.99L167.41 170.33L167.89 169.65L168.37 168.96L168.86 168.26L169.34 167.55L169.82 166.82L170.30 166.08L170.79 165.33L171.27 164.56L171.75 163.78L172.23 162.99L172.72 162.18L173.20 161.36L173.68 160.53L174.16 159.68L174.65 158.83L175.13 157.95L175.61 157.07L176.09 156.17L176.58 155.26L177.06 154.34L177.54 153.40L178.02 152.45L178.50 151.48L178.99 150.51L179.47 149.52L179.95 148.52L180.44 147.50L180.92 146.47L181.40 145.43L181.88 144.37L182.37 143.31L182.85 142.22L183.33 141.13L183.81 140.02L184.30 138.90L184.78 137.39L185.26 135.53L185.74 133.69L186.23 131.90L186.71 130.13L187.19 128.39L187.67 126.69L188.16 125.01L188.64 123.36L189.12 121.73L189.60 120.13L190.09 118.56L190.57 117.01L191.05 115.49L191.53 113.98L192.02 112.50L192.50 111.04L192.98 109.61L193.46 108.19L193.94 106.79L194.43 105.41L194.91 104.05L195.39 102.71L195.88 101.39L196.36 100.08L196.84 98.79L197.32 97.52L197.81 96.26L198.29 95.02L198.77 93.79L199.25 92.58L199.74 91.38L200.22 90.20L200.70 89.03L201.18 87.87L201.67 86.72L202.15 85.59L202.63 84.47L203.11 83.37L203.59 82.27L204.08 81.19L204.56 80.11L205.04 79.05L205.53 78.00L206.01 76.96L206.49 75.93L206.97 74.91L207.46 73.89L207.94 72.89L208.42 71.90L208.90 70.92L209.38 69.94L209.87 68.98L210.35 68.02L210.83 67.07L211.31 66.13L211.80 65.20L212.28 64.27L212.76 63.36L213.25 62.45L213.73 61.55L214.21 60.65L214.69 59.76L215.18 58.88L215.66 58.01L216.14 57.14L216.62 56.28L217.11 55.42L217.59 54.58L218.07 53.73L218.55 52.90L219.04 52.07L219.52 51.24L220.00 50.42L220.48 49.61L220.97 48.80L221.45 48.00L221.93 47.20L222.41 46.41L222.90 45.63L223.38 44.84L223.86 44.07L224.34 43.30L224.82 42.53L225.31 41.77L225.79 41.01L226.27 40.25L335.80 40.25" fill="none" stroke="#A020F0" stroke-width="2" stroke-dasharray="6,3.8"/>
<path d="M142.80 157.95L143.28 157.95L143.77 157.93L144.25 157.90L144.73 157.87L145.21 157.82L145.70 157.76L146.18 157.69L146.66 157.62L147.14 157.53L147.62 157.43L148.11 157.32L148.59 157.20L149.07 157.07L149.56 156.92L150.04 156.77L150.52 156.61L151.00 156.44L151.49 156.25L151.97 156.06L152.45 155.85L152.93 155.64L153.42 155.41L153.90 155.18L154.38 154.93L154.86 154.67L155.34 154.41L155.83 154.13L156.31 153.84L156.79 153.54L157.28 153.23L157.76 152.91L158.24 152.58L158.72 152.24L159.21 151.89L159.69 151.53L160.17 151.16L160.65 150.77L161.14 150.38L161.62 149.98L162.10 149.56L162.58 149.14L163.06 148.70L163.55 148.26L164.03 147.80L164.51 147.33L165.00 146.86L165.48 146.37L165.96 145.87L166.44 145.36L166.93 144.84L167.41 144.31L167.89 143.77L168.37 143.22L168.86 142.66L169.34 142.09L169.82 141.51L170.30 140.92L170.79 140.31L171.27 139.70L171.75 139.08L172.23 138.44L172.72 137.80L173.20 137.14L173.68 136.47L174.16 135.80L174.65 135.11L175.13 134.41L175.61 133.71L176.09 132.99L176.58 132.26L177.06 131.52L177.54 130.77L178.02 130.01L178.50 129.24L178.99 128.46L179.47 127.67L179.95 126.86L180.44 126.05L180.92 125.23L181.40 124.39L181.88 123.55L182.37 122.69L182.85 121.83L183.33 120.95L183.81 120.07L184.30 119.17L184.78 117.96L185.26 116.47L185.74 115.01L186.23 113.57L186.71 112.15L187.19 110.77L187.67 109.40L188.16 108.06L188.64 106.74L189.12 105.44L189.60 104.16L190.09 102.90L190.57 101.66L191.05 100.44L191.53 99.24L192.02 98.05L192.50 96.89L192.98 95.74L193.46 94.60L193.94 93.48L194.43 92.38L194.91 91.29L195.39 90.22L195.88 89.16L196.36 88.12L196.84 87.08L197.32 86.07L197.81 85.06L198.29 84.07L198.77 83.08L199.25 82.11L199.74 81.16L200.22 80.21L200.70 79.27L201.18 78.35L201.67 77.43L202.15 76.52L202.63 75.63L203.11 74.74L203.59 73.87L204.08 73.00L204.56 72.14L205.04 71.29L205.53 70.45L206.01 69.62L206.49 68.79L206.97 67.98L207.46 67.17L207.94 66.37L208.42 65.57L208.90 64.79L209.38 64.01L209.87 63.23L210.35 62.47L210.83 61.71L211.31 60.96L211.80 60.21L212.28 59.47L212.76 58.74L213.25 58.01L213.73 57.29L214.21 56.57L214.69 55.86L215.18 55.16L215.66 54.46L216.14 53.76L216.62 53.07L217.11 52.39L217.59 51.71L218.07 51.04L218.55 50.37L219.04 49.70L219.52 49.05L220.00 48.39L220.48 47.74L220.97 47.09L221.45 46.45L221.93 45.81L222.41 45.18L222.90 44.55L223.38 43.93L223.86 43.30L224.34 42.69L224.82 42.07L225.31 41.46L225.79 40.86L226.27 40.25L335.80 40.25" fill="none" stroke="#0000FF" stroke-width="2"/>
<path d="M142.80 99.10L143.28 99.10L143.77 99.09L144.25 99.08L144.73 99.06L145.21 99.04L145.70 99.01L146.18 98.97L146.66 98.94L147.14 98.89L147.62 98.84L148.11 98.79L148.59 98.73L149.07 98.66L149.56 98.59L150.04 98.51L150.52 98.43L151.00 98.35L151.49 98.25L151.97 98.16L152.45 98.05L152.93 97.95L153.42 97.83L153.90 97.72L154.38 97.59L154.86 97.46L155.34 97.33L155.83 97.19L156.31 97.05L156.79 96.90L157.28 96.74L157.76 96.58L158.24 96.42L158.72 96.25L159.21 96.07L159.69 95.89L160.17 95.71L160.65 95.51L161.14 95.32L161.62 95.12L162.10 94.91L162.58 94.70L163.06 94.48L163.55 94.26L164.03 94.03L164.51 93.79L165.00 93.56L165.48 93.31L165.96 93.06L166.44 92.81L166.93 92.55L167.41 92.28L167.89 92.01L168.37 91.74L168.86 91.46L169.34 91.17L169.82 90.88L170.30 90.59L170.79 90.28L171.27 89.98L171.75 89.66L172.23 89.35L172.72 89.03L173.20 88.70L173.68 88.36L174.16 88.03L174.65 87.68L175.13 87.33L175.61 86.98L176.09 86.62L176.58 86.26L177.06 85.89L177.54 85.51L178.02 85.13L178.50 84.75L178.99 84.36L179.47 83.96L179.95 83.56L180.44 83.15L180.92 82.74L181.40 82.32L181.88 81.90L182.37 81.47L182.85 81.04L183.33 80.60L183.81 80.16L184.30 79.71L184.78 79.11L185.26 78.36L185.74 77.63L186.23 76.91L186.71 76.20L187.19 75.51L187.67 74.83L188.16 74.16L188.64 73.50L189.12 72.85L189.60 72.21L190.09 71.58L190.57 70.96L191.05 70.35L191.53 69.75L192.02 69.15L192.50 68.57L192.98 68.00L193.46 67.43L193.94 66.87L194.43 66.32L194.91 65.77L195.39 65.24L195.88 64.71L196.36 64.19L196.84 63.67L197.32 63.16L197.81 62.66L198.29 62.16L198.77 61.67L199.25 61.18L199.74 60.71L200.22 60.23L200.70 59.76L201.18 59.30L201.67 58.84L202.15 58.39L202.63 57.94L203.11 57.50L203.59 57.06L204.08 56.63L204.56 56.20L205.04 55.77L205.53 55.35L206.01 54.94L206.49 54.52L206.97 54.12L207.46 53.71L207.94 53.31L208.42 52.91L208.90 52.52L209.38 52.13L209.87 51.74L210.35 51.36L210.83 50.98L211.31 50.61L211.80 50.23L212.28 49.86L212.76 49.50L213.25 49.13L213.73 48.77L214.21 48.41L214.69 48.06L215.18 47.71L215.66 47.36L216.14 47.01L216.62 46.66L217.11 46.32L217.59 45.98L218.07 45.65L218.55 45.31L219.04 44.98L219.52 44.65L220.00 44.32L220.48 44.00L220.97 43.67L221.45 43.35L221.93 43.03L222.41 42.72L222.90 42.40L223.38 42.09L223.86 41.78L224.34 41.47L224.82 41.16L225.31 40.86L225.79 40.56L226.27 40.25L335.80 40.25" fill="none" stroke="#00FF00" stroke-width="2"/>
<path d="M142.80 46.14L143.28 46.14L143.77 46.14L144.25 46.14L144.73 46.14L145.21 46.13L145.70 46.13L146.18 46.13L146.66 46.12L147.14 46.12L147.62 46.11L148.11 46.11L148.59 46.10L149.07 46.10L149.56 46.09L150.04 46.08L150.52 46.07L151.00 46.06L151.49 46.05L151.97 46.04L152.45 46.03L152.93 46.02L153.42 46.01L153.90 46.00L154.38 45.99L154.86 45.98L155.34 45.96L155.83 45.95L156.31 45.93L156.79 45.92L157.28 45.90L157.76 45.89L158.24 45.87L158.72 45.85L159.21 45.84L159.69 45.82L160.17 45.80L160.65 45.78L161.14 45.76L161.62 45.74L162.10 45.72L162.58 45.70L163.06 45.68L163.55 45.65L164.03 45.63L164.51 45.61L165.00 45.58L165.48 45.56L165.96 45.54L166.44 45.51L166.93 45.48L167.41 45.46L167.89 45.43L168.37 45.40L168.86 45.37L169.34 45.35L169.82 45.32L170.30 45.29L170.79 45.26L171.27 45.23L171.75 45.20L172.23 45.16L172.72 45.13L173.20 45.10L173.68 45.07L174.16 45.03L174.65 45.00L175.13 44.96L175.61 44.93L176.09 44.89L176.58 44.85L177.06 44.82L177.54 44.78L178.02 44.74L178.50 44.70L178.99 44.66L179.47 44.63L179.95 44.58L180.44 44.54L180.92 44.50L181.40 44.46L181.88 44.42L182.37 44.38L182.85 44.33L183.33 44.29L183.81 44.25L184.30 44.20L184.78 44.14L185.26 44.07L185.74 43.99L186.23 43.92L186.71 43.85L187.19 43.78L187.67 43.71L188.16 43.64L188.64 43.58L189.12 43.51L189.60 43.45L190.09 43.39L190.57 43.32L191.05 43.26L191.53 43.20L192.02 43.14L192.50 43.09L192.98 43.03L193.46 42.97L193.94 42.92L194.43 42.86L194.91 42.81L195.39 42.75L195.88 42.70L196.36 42.65L196.84 42.60L197.32 42.55L197.81 42.49L198.29 42.45L198.77 42.40L199.25 42.35L199.74 42.30L200.22 42.25L200.70 42.21L201.18 42.16L201.67 42.11L202.15 42.07L202.63 42.02L203.11 41.98L203.59 41.94L204.08 41.89L204.56 41.85L205.04 41.81L205.53 41.76L206.01 41.72L206.49 41.68L206.97 41.64L207.46 41.60L207.94 41.56L208.42 41.52L208.90 41.48L209.38 41.44L209.87 41.40L210.35 41.37L210.83 41.33L211.31 41.29L211.80 41.25L212.28 41.22L212.76 41.18L213.25 41.14L213.73 41.11L214.21 41.07L214.69 41.03L215.18 41.00L215.66 40.96L216.14 40.93L216.62 40.90L217.11 40.86L217.59 40.83L218.07 40.79L218.55 40.76L219.04 40.73L219.52 40.69L220.00 40.66L220.48 40.63L220.97 40.60L221.45 40.56L221.93 40.53L222.41 40.50L222.90 40.47L223.38 40.44L223.86 40.41L224.34 40.38L224.82 40.35L225.31 40.31L225.79 40.28L226.27 40.25L335.80 40.25" fill="none" stroke="#007A00" stroke-width="2" stroke-dasharray="6,3.8"/>
<path d="M142.80 40.25L143.28 40.25L143.77 40.25L144.25 40.25L144.73 40.25L145.21 40.25L145.70 40.25L146.18 40.25L146.66 40.25L147.14 40.25L147.62 40.25L148.11 40.25L148.59 40.25L149.07 40.25L149.56 40.25L150.04 40.25L150.52 40.25L151.00 40.25L151.49 40.25L151.97 40.25L152.45 40.25L152.93 40.25L153.42 40.25L153.90 40.25L154.38 40.25L154.86 40.25L155.34 40.25L155.83 40.25L156.31 40.25L156.79 40.25L157.28 40.25L157.76 40.25L158.24 40.25L158.72 40.25L159.21 40.25L159.69 40.25L160.17 40.25L160.65 40.25L161.14 40.25L161.62 40.25L162.10 40.25L162.58 40.25L163.06 40.25L163.55 40.25L164.03 40.25L164.51 40.25L165.00 40.25L165.48 40.25L165.96 40.25L166.44 40.25L166.93 40.25L167.41 40.25L167.89 40.25L168.37 40.25L168.86 40.25L169.34 40.25L169.82 40.25L170.30 40.25L170.79 40.25L171.27 40.25L171.75 40.25L172.23 40.25L172.72 40.25L173.20 40.25L173.68 40.25L174.16 40.25L174.65 40.25L175.13 40.25L175.61 40.25L176.09 40.25L176.58 40.25L177.06 40.25L177.54 40.25L178.02 40.25L178.50 40.25L178.99 40.25L179.47 40.25L179.95 40.25L180.44 40.25L180.92 40.25L181.40 40.25L181.88 40.25L182.37 40.25L182.85 40.25L183.33 40.25L183.81 40.25L184.30 40.25L184.78 40.25L185.26 40.25L185.74 40.25L186.23 40.25L186.71 40.25L187.19 40.25L187.67 40.25L188.16 40.25L188.64 40.25L189.12 40.25L189.60 40.25L190.09 40.25L190.57 40.25L191.05 40.25L191.53 40.25L192.02 40.25L192.50 40.25L192.98 40.25L193.46 40.25L193.94 40.25L194.43 40.25L194.91 40.25L195.39 40.25L195.88 40.25L196.36 40.25L196.84 40.25L197.32 40.25L197.81 40.25L198.29 40.25L198.77 40.25L199.25 40.25L199.74 40.25L200.22 40.25L200.70 40.25L201.18 40.25L201.67 40.25L202.15 40.25L202.63 40.25L203.11 40.25L203.59 40.25L204.08 40.25L204.56 40.25L205.04 40.25L205.53 40.25L206.01 40.25L206.49 40.25L206.97 40.25L207.46 40.25L207.94 40.25L208.42 40.25L208.90 40.25L209.38 40.25L209.87 40.25L210.35 40.25L210.83 40.25L211.31 40.25L211.80 40.25L212.28 40.25L212.76 40.25L213.25 40.25L213.73 40.25L214.21 40.25L214.69 40.25L215.18 40.25L215.66 40.25L216.14 40.25L216.62 40.25L217.11 40.25L217.59 40.25L218.07 40.25L218.55 40.25L219.04 40.25L219.52 40.25L220.00 40.25L220.48 40.25L220.97 40.25L221.45 40.25L221.93 40.25L222.41 40.25L222.90 40.25L223.38 40.25L223.86 40.25L224.34 40.25L224.82 40.25L225.31 40.25L225.79 40.25L226.27 40.25L335.80 40.25" fill="none" stroke="#FF8000" stroke-width="2"/>
<path d="M166.93 216.80L166.93 213.80M166.93 22.60L166.93 25.60M191.05 216.80L191.05 211.80M191.05 22.60L191.05 27.60M215.18 216.80L215.18 213.80M215.18 22.60L215.18 25.60M239.30 216.80L239.30 211.80M239.30 22.60L239.30 27.60M263.43 216.80L263.43 213.80M263.43 22.60L263.43 25.60M287.55 216.80L287.55 211.80M287.55 22.60L287.55 27.60M311.68 216.80L311.68 213.80M311.68 22.60L311.68 25.60M142.80 199.15L145.80 199.15M335.80 199.15L332.80 199.15M142.80 181.49L147.80 181.49M335.80 181.49L330.80 181.49M142.80 163.84L145.80 163.84M335.80 163.84L332.80 163.84M142.80 146.18L147.80 146.18M335.80 146.18L330.80 146.18M142.80 128.53L145.80 128.53M335.80 128.53L332.80 128.53M142.80 110.87L147.80 110.87M335.80 110.87L330.80 110.87M142.80 93.22L145.80 93.22M335.80 93.22L332.80 93.22M142.80 75.56L147.80 75.56M335.80 75.56L330.80 75.56M142.80 57.91L145.80 57.91M335.80 57.91L332.80 57.91M142.80 40.25L147.80 40.25M335.80 40.25L330.80 40.25" stroke="#000" stroke-width="1.1" fill="none"/>
<rect x="142.8" y="22.6" width="193.0" height="194.20000000000002" fill="none" stroke="#000" stroke-width="1.4"/>
<text x="142.8" y="232.7" font-size="11.5" text-anchor="middle">0</text>
<text x="191.1" y="232.7" font-size="11.5" text-anchor="middle">50</text>
<text x="239.3" y="232.7" font-size="11.5" text-anchor="middle">100</text>
<text x="287.6" y="232.7" font-size="11.5" text-anchor="middle">150</text>
<text x="335.8" y="232.7" font-size="11.5" text-anchor="middle">200</text>
<text x="137" y="220.8" font-size="11.5" text-anchor="end">0.0</text>
<text x="137" y="185.5" font-size="11.5" text-anchor="end">0.2</text>
<text x="137" y="150.2" font-size="11.5" text-anchor="end">0.4</text>
<text x="137" y="114.9" font-size="11.5" text-anchor="end">0.6</text>
<text x="137" y="79.6" font-size="11.5" text-anchor="end">0.8</text>
<text x="137" y="44.3" font-size="11.5" text-anchor="end">1.0</text>
<text x="235.4" y="253.8" font-size="14" text-anchor="middle">Energy (meV)</text>
<text transform="translate(108,130) rotate(-90)" font-size="13.5" text-anchor="middle">1/<tspan font-style="italic">τ</tspan><tspan font-size="8.5" dy="3.5">imp</tspan><tspan dy="-3.5">(ω, </tspan><tspan font-style="italic">T</tspan>)/(1/<tspan font-style="italic">τ</tspan><tspan font-size="8.5" dy="3.5">imp</tspan><tspan dy="-3.5">)</tspan></text>
<line x1="226.6" y1="80.2" x2="226.6" y2="55" stroke="#1C1C8A" stroke-width="1.6"/>
<path d="M226.6 50.5L224.4 56.5L228.8 56.5Z" fill="#1C1C8A"/>
<line x1="184" y1="197.7" x2="184" y2="170" stroke="#1C1C8A" stroke-width="1.6"/>
<path d="M184 165.2L181.8 171.2L186.2 171.2Z" fill="#1C1C8A"/>
<text x="216.5" y="94" font-size="12">2<tspan font-style="italic">Δ</tspan><tspan font-size="8" dy="5">pg</tspan></text>
<text x="187.5" y="197" font-size="12"><tspan font-style="italic">Δ</tspan><tspan font-size="8" dy="5">pg</tspan></text>
<line x1="249.2" y1="111.6" x2="276" y2="111.6" stroke="#FF8000" stroke-width="2"/>
<text x="323.8" y="115.6" font-size="11.3" text-anchor="end"><tspan font-style="italic">T</tspan> = 300 K</text>
<line x1="249.2" y1="125.1" x2="276" y2="125.1" stroke="#007A00" stroke-width="2" stroke-dasharray="6,3.8"/>
<text x="323.8" y="129.1" font-size="11.3" text-anchor="end">290 K</text>
<line x1="249.2" y1="138.7" x2="276" y2="138.7" stroke="#00FF00" stroke-width="2"/>
<text x="323.8" y="142.7" font-size="11.3" text-anchor="end">200 K</text>
<line x1="249.2" y1="152.2" x2="276" y2="152.2" stroke="#0000FF" stroke-width="2"/>
<text x="323.8" y="156.2" font-size="11.3" text-anchor="end">100 K</text>
<line x1="249.2" y1="165.8" x2="276" y2="165.8" stroke="#A020F0" stroke-width="2" stroke-dasharray="6,3.8"/>
<text x="323.8" y="169.8" font-size="11.3" text-anchor="end">50 K</text>
<line x1="249.2" y1="179.3" x2="276" y2="179.3" stroke="#FF00FF" stroke-width="2" stroke-dasharray="6,3.8"/>
<text x="323.8" y="183.3" font-size="11.3" text-anchor="end">10 K</text>
<line x1="249.2" y1="192.9" x2="276" y2="192.9" stroke="#800080" stroke-width="2"/>
<text x="323.8" y="196.9" font-size="11.3" text-anchor="end">0 K</text>
<text x="85.3" y="40" font-size="23.4">(a)</text>
</svg></body></html>
